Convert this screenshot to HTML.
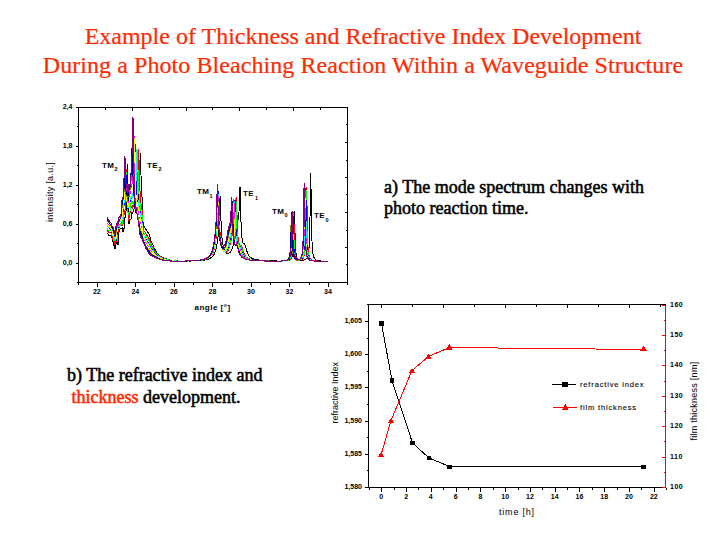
<!DOCTYPE html>
<html><head><meta charset="utf-8"><style>
html,body{margin:0;padding:0;background:#fff;}
body{width:720px;height:540px;position:relative;overflow:hidden;}
.title{position:absolute;left:0;width:726px;text-align:center;font-family:"Liberation Serif",serif;font-size:24px;letter-spacing:0px;color:#ff2a00;white-space:nowrap;line-height:28px;-webkit-text-stroke:0.2px #ff2a00;}
.txt{position:absolute;font-family:"Liberation Serif",serif;font-size:18px;letter-spacing:0px;color:#000;white-space:nowrap;line-height:21px;-webkit-text-stroke:0.55px currentColor;}
svg{position:absolute;left:0;top:0;}
.tk{font-family:"Liberation Sans",sans-serif;font-size:7px;font-weight:bold;fill:#000;}
.lg{font-family:"Liberation Sans",sans-serif;font-size:7.5px;font-weight:normal;fill:#000;letter-spacing:0.85px;stroke:#000;stroke-width:0.1px;}
.ax{font-family:"Liberation Sans",sans-serif;font-size:9px;fill:#000;}
.ml{font-family:"Liberation Sans",sans-serif;font-size:8px;font-weight:bold;fill:#000;letter-spacing:0.3px;}
.sb{font-family:"Liberation Sans",sans-serif;font-size:5.5px;font-weight:bold;fill:#000;}
</style></head><body>
<div class="title" style="top:22px">Example of Thickness and Refractive Index Development</div>
<div class="title" style="top:51px;letter-spacing:0.07px">During a Photo Bleaching Reaction Within a Waveguide Structure</div>
<div class="txt" style="left:384px;top:177px">a) The mode spectrum changes with<br>photo reaction time.</div>
<div class="txt" style="left:67px;top:363.5px;line-height:22px">b) The refractive index and<br>&nbsp;<span style="color:#ff2a00">thickness</span> development.</div>
<svg width="720" height="540" viewBox="0 0 720 540">
<g shape-rendering="crispEdges">
<rect x="78.5" y="107.5" width="269.0" height="175.0" fill="none" stroke="#000" stroke-width="1"/>
<line x1="75.5" y1="107.5" x2="78.5" y2="107.5" stroke="#000"/>
<line x1="75.5" y1="107.5" x2="78.5" y2="107.5" stroke="#000"/>
<text x="72.5" y="109.2" class="tk" text-anchor="end">2,4</text>
<line x1="76.5" y1="126.5" x2="78.5" y2="126.5" stroke="#000"/>
<line x1="75.5" y1="146.5" x2="78.5" y2="146.5" stroke="#000"/>
<text x="72.5" y="148.2" class="tk" text-anchor="end">1,8</text>
<line x1="76.5" y1="165.5" x2="78.5" y2="165.5" stroke="#000"/>
<line x1="75.5" y1="185.5" x2="78.5" y2="185.5" stroke="#000"/>
<text x="72.5" y="187.2" class="tk" text-anchor="end">1,2</text>
<line x1="76.5" y1="204.5" x2="78.5" y2="204.5" stroke="#000"/>
<line x1="75.5" y1="224.5" x2="78.5" y2="224.5" stroke="#000"/>
<text x="72.5" y="226.2" class="tk" text-anchor="end">0,6</text>
<line x1="76.5" y1="243.5" x2="78.5" y2="243.5" stroke="#000"/>
<line x1="75.5" y1="263.5" x2="78.5" y2="263.5" stroke="#000"/>
<text x="72.5" y="265.2" class="tk" text-anchor="end">0,0</text>
<line x1="76.5" y1="282.5" x2="78.5" y2="282.5" stroke="#000"/>
<line x1="78.5" y1="282.5" x2="78.5" y2="284.5" stroke="#000"/>
<line x1="97.5" y1="282.5" x2="97.5" y2="286.5" stroke="#000"/>
<text x="96.8" y="293.5" class="tk" text-anchor="middle">22</text>
<line x1="116.5" y1="282.5" x2="116.5" y2="284.5" stroke="#000"/>
<line x1="135.5" y1="282.5" x2="135.5" y2="286.5" stroke="#000"/>
<text x="135.3" y="293.5" class="tk" text-anchor="middle">24</text>
<line x1="155.5" y1="282.5" x2="155.5" y2="284.5" stroke="#000"/>
<line x1="174.5" y1="282.5" x2="174.5" y2="286.5" stroke="#000"/>
<text x="173.8" y="293.5" class="tk" text-anchor="middle">26</text>
<line x1="193.5" y1="282.5" x2="193.5" y2="284.5" stroke="#000"/>
<line x1="212.5" y1="282.5" x2="212.5" y2="286.5" stroke="#000"/>
<text x="212.4" y="293.5" class="tk" text-anchor="middle">28</text>
<line x1="232.5" y1="282.5" x2="232.5" y2="284.5" stroke="#000"/>
<line x1="251.5" y1="282.5" x2="251.5" y2="286.5" stroke="#000"/>
<text x="250.9" y="293.5" class="tk" text-anchor="middle">30</text>
<line x1="270.5" y1="282.5" x2="270.5" y2="284.5" stroke="#000"/>
<line x1="289.5" y1="282.5" x2="289.5" y2="286.5" stroke="#000"/>
<text x="289.5" y="293.5" class="tk" text-anchor="middle">32</text>
<line x1="309.5" y1="282.5" x2="309.5" y2="284.5" stroke="#000"/>
<line x1="328.5" y1="282.5" x2="328.5" y2="286.5" stroke="#000"/>
<text x="328.0" y="293.5" class="tk" text-anchor="middle">34</text>
<line x1="347.5" y1="282.5" x2="347.5" y2="284.5" stroke="#000"/>
<line x1="105.5" y1="107.5" x2="105.5" y2="109.5" stroke="#000"/>
<line x1="132.5" y1="107.5" x2="132.5" y2="110.5" stroke="#000"/>
<line x1="159.5" y1="107.5" x2="159.5" y2="109.5" stroke="#000"/>
<line x1="186.5" y1="107.5" x2="186.5" y2="110.5" stroke="#000"/>
<line x1="212.5" y1="107.5" x2="212.5" y2="109.5" stroke="#000"/>
<line x1="239.5" y1="107.5" x2="239.5" y2="110.5" stroke="#000"/>
<line x1="266.5" y1="107.5" x2="266.5" y2="109.5" stroke="#000"/>
<line x1="293.5" y1="107.5" x2="293.5" y2="110.5" stroke="#000"/>
<line x1="320.5" y1="107.5" x2="320.5" y2="109.5" stroke="#000"/>
<line x1="347.5" y1="124.5" x2="345.5" y2="124.5" stroke="#000"/>
<line x1="347.5" y1="142.5" x2="344.5" y2="142.5" stroke="#000"/>
<line x1="347.5" y1="160.5" x2="345.5" y2="160.5" stroke="#000"/>
<line x1="347.5" y1="177.5" x2="344.5" y2="177.5" stroke="#000"/>
<line x1="347.5" y1="194.5" x2="345.5" y2="194.5" stroke="#000"/>
<line x1="347.5" y1="212.5" x2="344.5" y2="212.5" stroke="#000"/>
<line x1="347.5" y1="230.5" x2="345.5" y2="230.5" stroke="#000"/>
<line x1="347.5" y1="247.5" x2="344.5" y2="247.5" stroke="#000"/>
<line x1="347.5" y1="264.5" x2="345.5" y2="264.5" stroke="#000"/>
</g>
<g fill="none" stroke-width="1" shape-rendering="crispEdges">
<path d="M107.0,233.3 L107.5,233.7 L108.0,234.1 L108.5,235.1 L109.0,236.1 L109.5,235.9 L110.0,235.8 L110.5,235.9 L111.0,236.0 L111.5,236.8 L112.0,237.6 L112.5,239.9 L113.0,242.3 L113.5,242.3 L114.0,245.5 L114.5,246.3 L115.0,249.3 L115.5,247.7 L116.0,243.1 L116.5,243.4 L117.0,241.3 L117.5,243.6 L118.0,245.4 L118.5,238.1 L119.0,229.7 L119.5,230.6 L120.0,229.1 L120.5,228.4 L121.0,228.0 L121.5,228.2 L122.0,227.8 L122.5,227.6 L123.0,231.9 L123.5,228.3 L124.0,228.7 L124.5,223.6 L125.0,217.6 L125.5,215.9 L126.0,211.1 L126.5,200.4 L127.0,175.1 L127.4,163.9 L127.5,166.7 L128.0,193.5 L128.5,217.2 L129.0,224.2 L129.5,223.0 L130.0,219.2 L130.5,219.7 L131.0,219.3 L131.5,215.0 L132.0,211.8 L132.5,212.9 L133.0,212.0 L133.5,210.1 L134.0,209.3 L134.5,207.6 L135.0,207.0 L135.5,203.4 L136.0,201.2 L136.5,202.5 L137.0,200.2 L137.5,202.2 L138.0,200.3 L138.5,192.3 L139.0,185.4 L139.5,175.8 L140.0,160.8 L140.4,152.6 L140.5,153.7 L141.0,175.3 L141.5,189.4 L142.0,196.9 L142.5,201.5 L143.0,222.0 L143.5,224.4 L144.0,226.5 L144.5,227.4 L145.0,228.1 L145.5,228.7 L146.0,229.5 L146.5,230.3 L147.0,231.1 L147.5,231.8 L148.0,232.6 L148.5,233.3 L149.0,234.1 L149.5,235.2 L150.0,237.0 L150.5,238.8 L151.0,240.6 L151.5,241.8 L152.0,243.0 L152.5,244.2 L153.0,245.3 L153.5,246.5 L154.0,247.7 L154.5,248.6 L155.0,249.5 L155.5,250.4 L156.0,251.3 L156.5,252.2 L157.0,252.8 L157.5,253.4 L158.0,254.0 L158.5,254.6 L159.0,255.2 L159.5,255.5 L160.0,255.8 L160.5,256.1 L161.0,256.4 L161.5,256.7 L162.0,257.0 L162.5,257.3 L163.0,257.5 L163.5,257.7 L164.0,257.9 L164.5,258.1 L165.0,258.3 L165.5,258.5 L166.0,258.8 L166.5,258.9 L167.0,259.1 L167.5,259.2 L168.0,259.4 L168.5,259.6 L169.0,259.7 L169.5,259.9 L170.0,260.0 L170.5,260.1 L171.0,260.2 L171.5,260.3 L172.0,260.3 L172.5,260.4 L173.0,260.5 L173.5,260.6 L174.0,260.6 L174.5,260.7 L175.0,260.7 L175.5,260.8 L176.0,260.8 L176.5,260.9 L177.0,260.9 L177.5,261.0 L178.0,261.0 L178.5,261.0 L179.0,261.1 L179.5,261.1 L180.0,261.2 L180.5,261.2 L181.0,261.1 L181.5,261.1 L182.0,261.1 L182.5,261.1 L183.0,261.1 L183.5,261.1 L184.0,261.1 L184.5,261.1 L185.0,261.1 L185.5,261.1 L186.0,261.1 L186.5,261.1 L187.0,261.0 L187.5,261.0 L188.0,261.0 L188.5,261.0 L189.0,261.0 L189.5,261.0 L190.0,261.0 L190.5,261.0 L191.0,260.9 L191.5,260.9 L192.0,260.9 L192.5,260.9 L193.0,260.9 L193.5,260.9 L194.0,260.8 L194.5,260.8 L195.0,260.8 L195.5,260.8 L196.0,260.7 L196.5,260.7 L197.0,260.7 L197.5,260.7 L198.0,260.6 L198.5,260.6 L199.0,260.6 L199.5,260.5 L200.0,260.5 L200.5,260.5 L201.0,260.4 L201.5,260.4 L202.0,260.3 L202.5,260.3 L203.0,260.2 L203.5,260.1 L204.0,260.1 L204.5,260.0 L205.0,259.9 L205.5,259.8 L206.0,259.7 L206.5,259.6 L207.0,259.5 L207.5,259.3 L208.0,259.2 L208.5,259.0 L209.0,258.8 L209.5,258.6 L210.0,258.4 L210.5,258.1 L211.0,257.8 L211.5,257.4 L212.0,257.0 L212.5,256.5 L213.0,256.0 L213.5,255.3 L214.0,254.5 L214.5,253.5 L215.0,252.3 L215.5,250.8 L216.0,249.0 L216.5,246.8 L217.0,244.1 L217.5,240.8 L218.0,236.9 L218.5,232.0 L219.0,225.5 L219.5,214.7 L220.0,198.4 L220.2,195.9 L220.5,202.9 L221.0,221.0 L221.5,231.8 L222.0,238.0 L222.5,242.2 L223.0,245.2 L223.5,247.5 L224.0,249.2 L224.5,250.5 L225.0,251.5 L225.5,252.3 L226.0,252.8 L226.5,253.2 L227.0,253.4 L227.5,253.6 L228.0,253.6 L228.5,253.5 L229.0,253.2 L229.5,252.9 L230.0,252.5 L230.5,251.9 L231.0,251.1 L231.5,250.2 L232.0,249.1 L232.5,247.7 L233.0,246.1 L233.5,244.1 L234.0,241.8 L234.5,239.2 L235.0,236.1 L235.5,232.9 L236.0,229.6 L236.5,226.4 L237.0,223.8 L237.5,221.8 L238.0,220.2 L238.5,217.7 L239.0,211.7 L239.5,198.1 L240.0,186.9 L240.5,203.5 L241.0,222.1 L241.5,232.4 L242.0,237.9 L242.5,241.0 L243.0,242.7 L243.5,243.5 L244.0,243.8 L244.5,244.0 L245.0,244.6 L245.5,245.9 L246.0,247.7 L246.5,249.6 L247.0,251.4 L247.5,252.8 L248.0,254.0 L248.5,254.9 L249.0,255.7 L249.5,256.3 L250.0,256.9 L250.5,257.3 L251.0,257.7 L251.5,258.0 L252.0,258.3 L252.5,258.5 L253.0,258.7 L253.5,258.9 L254.0,259.1 L254.5,259.2 L255.0,259.3 L255.5,259.5 L256.0,259.6 L256.5,259.7 L257.0,259.8 L257.5,259.9 L258.0,259.9 L258.5,260.0 L259.0,260.1 L259.5,260.1 L260.0,260.2 L260.5,260.3 L261.0,260.3 L261.5,260.3 L262.0,260.4 L262.5,260.4 L263.0,260.5 L263.5,260.5 L264.0,260.5 L264.5,260.6 L265.0,260.6 L265.5,260.6 L266.0,260.7 L266.5,260.7 L267.0,260.7 L267.5,260.7 L268.0,260.7 L268.5,260.8 L269.0,260.8 L269.5,260.8 L270.0,260.8 L270.5,260.8 L271.0,260.8 L271.5,260.9 L272.0,260.9 L272.5,260.9 L273.0,260.9 L273.5,260.9 L274.0,260.9 L274.5,260.9 L275.0,260.9 L275.5,260.9 L276.0,260.9 L276.5,261.0 L277.0,261.0 L277.5,261.0 L278.0,261.0 L278.5,261.0 L279.0,261.0 L279.5,261.0 L280.0,261.0 L280.5,261.0 L281.0,261.0 L281.5,261.0 L282.0,261.0 L282.5,260.9 L283.0,260.9 L283.5,260.9 L284.0,260.9 L284.5,260.9 L285.0,260.9 L285.5,260.8 L286.0,260.8 L286.5,260.8 L287.0,260.7 L287.5,260.6 L288.0,260.6 L288.5,260.5 L289.0,260.3 L289.5,260.1 L290.0,259.9 L290.5,259.6 L291.0,259.1 L291.5,258.4 L292.0,257.2 L292.5,255.1 L293.0,251.1 L293.5,242.2 L294.0,223.2 L294.4,210.8 L294.5,211.8 L295.0,232.1 L295.5,246.6 L296.0,253.0 L296.5,256.1 L297.0,257.7 L297.5,258.6 L298.0,259.2 L298.5,259.6 L299.0,259.9 L299.5,260.0 L300.0,260.2 L300.5,260.3 L301.0,260.3 L301.5,260.3 L302.0,260.3 L302.5,260.3 L303.0,260.3 L303.5,260.2 L304.0,260.1 L304.5,260.0 L305.0,259.8 L305.5,259.6 L306.0,259.3 L306.5,258.8 L307.0,258.1 L307.5,257.2 L308.0,255.7 L308.5,253.1 L309.0,248.4 L309.5,238.8 L310.0,217.1 L310.5,179.6 L310.7,172.9 L311.0,186.6 L311.5,223.0 L312.0,241.4 L312.5,249.7 L313.0,253.8 L313.5,256.1 L314.0,257.5 L314.5,258.4 L315.0,259.0 L315.5,259.5 L316.0,259.8 L316.5,260.1 L317.0,260.3 L317.5,260.4 L318.0,260.5 L318.5,260.6 L319.0,260.7 L319.5,260.8 L320.0,260.9 L320.5,260.9 L321.0,261.0 L321.5,261.0 L322.0,261.0 L322.5,261.1 L323.0,261.1 L323.5,261.1 L324.0,261.1 L324.5,261.2 L325.0,261.2 L325.5,261.2 L326.0,261.2 L326.5,261.2 L327.0,261.2 L327.5,261.2 L328.0,261.2" stroke="#000000"/>
<path d="M107.0,229.7 L107.5,230.4 L108.0,231.5 L108.5,232.3 L109.0,232.5 L109.5,232.4 L110.0,232.5 L110.5,232.6 L111.0,232.7 L111.5,233.9 L112.0,235.8 L112.5,238.8 L113.0,237.8 L113.5,239.0 L114.0,241.5 L114.5,242.3 L115.0,244.4 L115.5,240.9 L116.0,240.1 L116.5,239.8 L117.0,241.5 L117.5,239.5 L118.0,233.2 L118.5,229.3 L119.0,226.7 L119.5,227.5 L120.0,225.7 L120.5,225.5 L121.0,222.9 L121.5,222.8 L122.0,225.5 L122.5,225.5 L123.0,223.6 L123.5,222.5 L124.0,215.2 L124.5,211.2 L125.0,209.9 L125.5,204.0 L126.0,184.8 L126.5,169.5 L127.0,183.5 L127.5,202.2 L128.0,212.5 L128.5,221.3 L129.0,217.7 L129.5,215.1 L130.0,213.2 L130.5,211.5 L131.0,207.6 L131.5,206.8 L132.0,206.8 L132.5,207.8 L133.0,205.1 L133.5,204.3 L134.0,207.1 L134.5,206.9 L135.0,205.2 L135.5,204.2 L136.0,203.5 L136.5,202.3 L137.0,200.6 L137.5,193.4 L138.0,172.4 L138.5,150.2 L138.6,148.7 L139.0,158.9 L139.5,178.9 L140.0,191.0 L140.5,197.3 L141.0,204.4 L141.5,207.4 L142.0,209.9 L142.5,212.0 L143.0,227.5 L143.5,229.2 L144.0,230.9 L144.5,231.6 L145.0,232.3 L145.5,233.0 L146.0,233.8 L146.5,234.6 L147.0,235.4 L147.5,236.1 L148.0,236.9 L148.5,237.6 L149.0,238.4 L149.5,239.4 L150.0,240.9 L150.5,242.4 L151.0,243.9 L151.5,244.9 L152.0,245.9 L152.5,246.9 L153.0,247.8 L153.5,248.8 L154.0,249.8 L154.5,250.5 L155.0,251.3 L155.5,252.0 L156.0,252.8 L156.5,253.5 L157.0,254.0 L157.5,254.5 L158.0,255.1 L158.5,255.6 L159.0,256.1 L159.5,256.4 L160.0,256.6 L160.5,256.9 L161.0,257.1 L161.5,257.4 L162.0,257.6 L162.5,257.9 L163.0,258.1 L163.5,258.3 L164.0,258.5 L164.5,258.7 L165.0,258.9 L165.5,259.0 L166.0,259.2 L166.5,259.3 L167.0,259.5 L167.5,259.6 L168.0,259.7 L168.5,259.9 L169.0,260.0 L169.5,260.1 L170.0,260.2 L170.5,260.3 L171.0,260.4 L171.5,260.4 L172.0,260.5 L172.5,260.5 L173.0,260.6 L173.5,260.7 L174.0,260.7 L174.5,260.8 L175.0,260.8 L175.5,260.9 L176.0,260.9 L176.5,260.9 L177.0,261.0 L177.5,261.0 L178.0,261.0 L178.5,261.0 L179.0,261.1 L179.5,261.1 L180.0,261.1 L180.5,261.1 L181.0,261.1 L181.5,261.1 L182.0,261.1 L182.5,261.1 L183.0,261.1 L183.5,261.1 L184.0,261.1 L184.5,261.1 L185.0,261.1 L185.5,261.0 L186.0,261.0 L186.5,261.0 L187.0,261.0 L187.5,261.0 L188.0,261.0 L188.5,261.0 L189.0,260.9 L189.5,260.9 L190.0,260.9 L190.5,260.9 L191.0,260.9 L191.5,260.9 L192.0,260.8 L192.5,260.8 L193.0,260.8 L193.5,260.8 L194.0,260.8 L194.5,260.7 L195.0,260.7 L195.5,260.7 L196.0,260.6 L196.5,260.6 L197.0,260.6 L197.5,260.5 L198.0,260.5 L198.5,260.5 L199.0,260.4 L199.5,260.4 L200.0,260.3 L200.5,260.3 L201.0,260.2 L201.5,260.1 L202.0,260.1 L202.5,260.0 L203.0,259.9 L203.5,259.8 L204.0,259.7 L204.5,259.6 L205.0,259.5 L205.5,259.4 L206.0,259.2 L206.5,259.0 L207.0,258.9 L207.5,258.7 L208.0,258.4 L208.5,258.2 L209.0,257.9 L209.5,257.5 L210.0,257.1 L210.5,256.7 L211.0,256.1 L211.5,255.5 L212.0,254.8 L212.5,253.9 L213.0,252.8 L213.5,251.4 L214.0,249.8 L214.5,247.9 L215.0,245.4 L215.5,242.4 L216.0,238.8 L216.5,234.4 L217.0,229.0 L217.5,221.5 L218.0,208.6 L218.5,192.5 L218.6,191.9 L219.0,203.4 L219.5,221.4 L220.0,231.5 L220.5,237.5 L221.0,241.6 L221.5,244.6 L222.0,246.8 L222.5,248.5 L223.0,249.8 L223.5,250.7 L224.0,251.4 L224.5,251.9 L225.0,252.1 L225.5,252.2 L226.0,252.2 L226.5,252.0 L227.0,251.6 L227.5,251.1 L228.0,250.4 L228.5,249.5 L229.0,248.4 L229.5,247.0 L230.0,245.3 L230.5,243.3 L231.0,241.0 L231.5,238.4 L232.0,235.6 L232.5,232.8 L233.0,230.2 L233.5,228.0 L234.0,226.4 L234.5,225.0 L235.0,222.5 L235.5,216.4 L236.0,203.5 L236.4,196.9 L236.5,198.0 L237.0,214.9 L237.5,229.3 L238.0,237.0 L238.5,241.1 L239.0,243.4 L239.5,244.6 L240.0,245.0 L240.5,245.0 L241.0,245.1 L241.5,245.7 L242.0,247.0 L242.5,248.8 L243.0,250.6 L243.5,252.2 L244.0,253.6 L244.5,254.7 L245.0,255.5 L245.5,256.2 L246.0,256.8 L246.5,257.3 L247.0,257.7 L247.5,258.0 L248.0,258.3 L248.5,258.5 L249.0,258.8 L249.5,259.0 L250.0,259.1 L250.5,259.3 L251.0,259.4 L251.5,259.5 L252.0,259.6 L252.5,259.7 L253.0,259.8 L253.5,259.9 L254.0,260.0 L254.5,260.1 L255.0,260.1 L255.5,260.2 L256.0,260.3 L256.5,260.3 L257.0,260.4 L257.5,260.4 L258.0,260.4 L258.5,260.5 L259.0,260.5 L259.5,260.6 L260.0,260.6 L260.5,260.6 L261.0,260.6 L261.5,260.7 L262.0,260.7 L262.5,260.7 L263.0,260.7 L263.5,260.8 L264.0,260.8 L264.5,260.8 L265.0,260.8 L265.5,260.8 L266.0,260.9 L266.5,260.9 L267.0,260.9 L267.5,260.9 L268.0,260.9 L268.5,260.9 L269.0,260.9 L269.5,261.0 L270.0,261.0 L270.5,261.0 L271.0,261.0 L271.5,261.0 L272.0,261.0 L272.5,261.0 L273.0,261.0 L273.5,261.0 L274.0,261.0 L274.5,261.0 L275.0,261.0 L275.5,261.0 L276.0,261.0 L276.5,261.0 L277.0,261.0 L277.5,261.0 L278.0,261.0 L278.5,261.0 L279.0,261.0 L279.5,261.0 L280.0,261.0 L280.5,261.0 L281.0,261.0 L281.5,261.0 L282.0,261.0 L282.5,261.0 L283.0,261.0 L283.5,260.9 L284.0,260.9 L284.5,260.9 L285.0,260.9 L285.5,260.8 L286.0,260.8 L286.5,260.7 L287.0,260.6 L287.5,260.5 L288.0,260.4 L288.5,260.3 L289.0,260.1 L289.5,259.8 L290.0,259.4 L290.5,258.8 L291.0,257.8 L291.5,256.2 L292.0,253.2 L292.5,246.9 L293.0,232.7 L293.5,212.8 L293.6,211.8 L294.0,223.9 L294.5,242.5 L295.0,251.2 L295.5,255.1 L296.0,257.1 L296.5,258.3 L297.0,258.9 L297.5,259.4 L298.0,259.6 L298.5,259.8 L299.0,259.9 L299.5,259.9 L300.0,259.9 L300.5,259.9 L301.0,259.8 L301.5,259.6 L302.0,259.3 L302.5,259.0 L303.0,258.4 L303.5,257.5 L304.0,256.1 L304.5,253.7 L305.0,249.2 L305.5,239.8 L306.0,218.3 L306.5,188.3 L306.6,186.8 L307.0,205.2 L307.5,233.2 L308.0,246.4 L308.5,252.4 L309.0,255.5 L309.5,257.2 L310.0,258.3 L310.5,259.0 L311.0,259.5 L311.5,259.8 L312.0,260.1 L312.5,260.3 L313.0,260.5 L313.5,260.6 L314.0,260.7 L314.5,260.8 L315.0,260.8 L315.5,260.9 L316.0,260.9 L316.5,261.0 L317.0,261.0 L317.5,261.1 L318.0,261.1 L318.5,261.1 L319.0,261.1 L319.5,261.2 L320.0,261.2 L320.5,261.2 L321.0,261.2 L321.5,261.2 L322.0,261.2 L322.5,261.2 L323.0,261.3 L323.5,261.3 L324.0,261.3 L324.5,261.3 L325.0,261.3 L325.5,261.3 L326.0,261.3 L326.5,261.3 L327.0,261.3 L327.5,261.3 L328.0,261.3" stroke="#ff0000"/>
<path d="M107.0,227.6 L107.5,228.8 L108.0,229.8 L108.5,230.1 L109.0,230.4 L109.5,230.5 L110.0,230.6 L110.5,230.6 L111.0,230.8 L111.5,232.8 L112.0,234.7 L112.5,235.6 L113.0,236.2 L113.5,237.9 L114.0,241.4 L114.5,239.6 L115.0,240.3 L115.5,238.8 L116.0,238.1 L116.5,240.2 L117.0,241.1 L117.5,236.5 L118.0,228.9 L118.5,228.5 L119.0,226.6 L119.5,226.1 L120.0,226.0 L120.5,223.7 L121.0,223.0 L121.5,224.0 L122.0,224.0 L122.5,222.9 L123.0,220.2 L123.5,215.1 L124.0,206.4 L124.5,204.9 L125.0,202.1 L125.5,187.0 L126.0,171.9 L126.5,184.5 L127.0,197.8 L127.5,206.1 L128.0,212.5 L128.5,215.4 L129.0,212.3 L129.5,212.7 L130.0,211.4 L130.5,206.8 L131.0,203.4 L131.5,202.0 L132.0,203.9 L132.5,203.9 L133.0,200.7 L133.5,202.8 L134.0,204.5 L134.5,202.2 L135.0,202.3 L135.5,200.1 L136.0,195.7 L136.5,186.4 L137.0,166.2 L137.4,151.3 L137.5,151.2 L138.0,169.7 L138.5,185.0 L139.0,194.0 L139.5,198.3 L140.0,203.2 L140.5,206.2 L141.0,211.2 L141.5,213.3 L142.0,215.3 L142.5,217.1 L143.0,230.1 L143.5,231.7 L144.0,233.2 L144.5,234.0 L145.0,234.7 L145.5,235.5 L146.0,236.3 L146.5,237.1 L147.0,237.9 L147.5,238.6 L148.0,239.4 L148.5,240.1 L149.0,240.9 L149.5,241.9 L150.0,243.2 L150.5,244.5 L151.0,245.8 L151.5,246.7 L152.0,247.6 L152.5,248.5 L153.0,249.3 L153.5,250.1 L154.0,251.0 L154.5,251.6 L155.0,252.3 L155.5,252.9 L156.0,253.6 L156.5,254.3 L157.0,254.7 L157.5,255.2 L158.0,255.7 L158.5,256.1 L159.0,256.6 L159.5,256.8 L160.0,257.1 L160.5,257.3 L161.0,257.6 L161.5,257.8 L162.0,258.0 L162.5,258.3 L163.0,258.4 L163.5,258.6 L164.0,258.8 L164.5,259.0 L165.0,259.2 L165.5,259.3 L166.0,259.5 L166.5,259.6 L167.0,259.7 L167.5,259.8 L168.0,259.9 L168.5,260.0 L169.0,260.1 L169.5,260.3 L170.0,260.4 L170.5,260.4 L171.0,260.5 L171.5,260.5 L172.0,260.6 L172.5,260.6 L173.0,260.7 L173.5,260.7 L174.0,260.8 L174.5,260.9 L175.0,260.9 L175.5,260.9 L176.0,260.9 L176.5,261.0 L177.0,261.0 L177.5,261.0 L178.0,261.0 L178.5,261.1 L179.0,261.1 L179.5,261.1 L180.0,261.1 L180.5,261.1 L181.0,261.1 L181.5,261.1 L182.0,261.1 L182.5,261.1 L183.0,261.1 L183.5,261.1 L184.0,261.1 L184.5,261.1 L185.0,261.0 L185.5,261.0 L186.0,261.0 L186.5,261.0 L187.0,261.0 L187.5,261.0 L188.0,261.0 L188.5,261.0 L189.0,260.9 L189.5,260.9 L190.0,260.9 L190.5,260.9 L191.0,260.9 L191.5,260.9 L192.0,260.8 L192.5,260.8 L193.0,260.8 L193.5,260.8 L194.0,260.7 L194.5,260.7 L195.0,260.7 L195.5,260.7 L196.0,260.6 L196.5,260.6 L197.0,260.6 L197.5,260.5 L198.0,260.5 L198.5,260.4 L199.0,260.4 L199.5,260.3 L200.0,260.3 L200.5,260.2 L201.0,260.2 L201.5,260.1 L202.0,260.0 L202.5,260.0 L203.0,259.9 L203.5,259.8 L204.0,259.7 L204.5,259.6 L205.0,259.4 L205.5,259.3 L206.0,259.1 L206.5,259.0 L207.0,258.8 L207.5,258.6 L208.0,258.3 L208.5,258.0 L209.0,257.7 L209.5,257.3 L210.0,256.9 L210.5,256.4 L211.0,255.8 L211.5,255.1 L212.0,254.3 L212.5,253.3 L213.0,252.1 L213.5,250.6 L214.0,248.8 L214.5,246.6 L215.0,243.9 L215.5,240.6 L216.0,236.6 L216.5,231.7 L217.0,225.4 L217.5,215.4 L218.0,198.6 L218.3,192.9 L218.5,196.6 L219.0,215.9 L219.5,228.5 L220.0,235.7 L220.5,240.3 L221.0,243.6 L221.5,246.1 L222.0,247.9 L222.5,249.3 L223.0,250.4 L223.5,251.1 L224.0,251.6 L224.5,251.9 L225.0,252.1 L225.5,252.0 L226.0,251.9 L226.5,251.5 L227.0,251.0 L227.5,250.3 L228.0,249.4 L228.5,248.2 L229.0,246.8 L229.5,245.1 L230.0,243.1 L230.5,240.8 L231.0,238.2 L231.5,235.4 L232.0,232.6 L232.5,230.1 L233.0,228.2 L233.5,226.7 L234.0,225.2 L234.5,222.3 L235.0,215.1 L235.5,201.7 L235.8,197.9 L236.0,201.3 L236.5,219.1 L237.0,231.7 L237.5,238.3 L238.0,241.9 L238.5,243.9 L239.0,244.9 L239.5,245.2 L240.0,245.1 L240.5,245.2 L241.0,246.0 L241.5,247.4 L242.0,249.2 L242.5,251.0 L243.0,252.6 L243.5,253.9 L244.0,254.9 L244.5,255.7 L245.0,256.4 L245.5,256.9 L246.0,257.4 L246.5,257.8 L247.0,258.1 L247.5,258.4 L248.0,258.6 L248.5,258.8 L249.0,259.0 L249.5,259.2 L250.0,259.3 L250.5,259.5 L251.0,259.6 L251.5,259.7 L252.0,259.8 L252.5,259.9 L253.0,260.0 L253.5,260.0 L254.0,260.1 L254.5,260.2 L255.0,260.2 L255.5,260.3 L256.0,260.3 L256.5,260.4 L257.0,260.4 L257.5,260.5 L258.0,260.5 L258.5,260.5 L259.0,260.6 L259.5,260.6 L260.0,260.6 L260.5,260.7 L261.0,260.7 L261.5,260.7 L262.0,260.7 L262.5,260.8 L263.0,260.8 L263.5,260.8 L264.0,260.8 L264.5,260.8 L265.0,260.9 L265.5,260.9 L266.0,260.9 L266.5,260.9 L267.0,260.9 L267.5,260.9 L268.0,260.9 L268.5,261.0 L269.0,261.0 L269.5,261.0 L270.0,261.0 L270.5,261.0 L271.0,261.0 L271.5,261.0 L272.0,261.0 L272.5,261.0 L273.0,261.0 L273.5,261.0 L274.0,261.0 L274.5,261.0 L275.0,261.0 L275.5,261.0 L276.0,261.0 L276.5,261.0 L277.0,261.0 L277.5,261.0 L278.0,261.0 L278.5,261.0 L279.0,261.0 L279.5,261.0 L280.0,261.0 L280.5,261.0 L281.0,261.0 L281.5,261.0 L282.0,261.0 L282.5,261.0 L283.0,261.0 L283.5,260.9 L284.0,260.9 L284.5,260.9 L285.0,260.8 L285.5,260.8 L286.0,260.7 L286.5,260.7 L287.0,260.6 L287.5,260.5 L288.0,260.3 L288.5,260.1 L289.0,259.9 L289.5,259.5 L290.0,259.0 L290.5,258.1 L291.0,256.7 L291.5,254.1 L292.0,248.9 L292.5,237.0 L293.0,216.4 L293.2,212.8 L293.5,220.3 L294.0,240.1 L294.5,250.2 L295.0,254.7 L295.5,256.9 L296.0,258.2 L296.5,258.9 L297.0,259.3 L297.5,259.6 L298.0,259.8 L298.5,259.9 L299.0,260.0 L299.5,260.0 L300.0,260.0 L300.5,259.9 L301.0,259.7 L301.5,259.5 L302.0,259.1 L302.5,258.6 L303.0,257.9 L303.5,256.7 L304.0,254.6 L304.5,250.8 L305.0,243.1 L305.5,225.5 L306.0,195.2 L306.2,189.9 L306.5,200.9 L307.0,230.3 L307.5,245.2 L308.0,251.9 L308.5,255.2 L309.0,257.1 L309.5,258.2 L310.0,259.0 L310.5,259.5 L311.0,259.8 L311.5,260.1 L312.0,260.3 L312.5,260.5 L313.0,260.6 L313.5,260.7 L314.0,260.8 L314.5,260.8 L315.0,260.9 L315.5,261.0 L316.0,261.0 L316.5,261.0 L317.0,261.1 L317.5,261.1 L318.0,261.1 L318.5,261.1 L319.0,261.2 L319.5,261.2 L320.0,261.2 L320.5,261.2 L321.0,261.2 L321.5,261.2 L322.0,261.2 L322.5,261.3 L323.0,261.3 L323.5,261.3 L324.0,261.3 L324.5,261.3 L325.0,261.3 L325.5,261.3 L326.0,261.3 L326.5,261.3 L327.0,261.3 L327.5,261.3 L328.0,261.3" stroke="#00ff00"/>
<path d="M107.0,225.6 L107.5,226.9 L108.0,227.2 L108.5,227.6 L109.0,228.2 L109.5,228.3 L110.0,228.3 L110.5,228.4 L111.0,229.4 L111.5,231.5 L112.0,232.5 L112.5,234.0 L113.0,235.8 L113.5,235.8 L114.0,235.9 L114.5,236.7 L115.0,238.3 L115.5,237.1 L116.0,237.9 L116.5,240.6 L117.0,235.2 L117.5,229.7 L118.0,228.5 L118.5,226.3 L119.0,225.1 L119.5,224.9 L120.0,221.6 L120.5,218.8 L121.0,220.8 L121.5,219.8 L122.0,218.1 L122.5,216.6 L123.0,212.6 L123.5,206.6 L124.0,205.3 L124.5,202.5 L125.0,194.4 L125.5,178.3 L125.8,171.9 L126.0,174.5 L126.5,189.4 L127.0,198.2 L127.5,205.3 L128.0,209.3 L128.5,207.5 L129.0,206.0 L129.5,205.4 L130.0,201.9 L130.5,198.5 L131.0,199.3 L131.5,197.4 L132.0,195.7 L132.5,194.0 L133.0,194.1 L133.5,195.5 L134.0,191.2 L134.5,181.1 L135.0,164.8 L135.5,144.2 L135.6,143.7 L136.0,160.9 L136.5,185.5 L137.0,194.8 L137.5,199.1 L138.0,200.8 L138.5,202.7 L139.0,206.2 L139.5,209.4 L140.0,211.4 L140.5,213.7 L141.0,217.5 L141.5,219.3 L142.0,221.1 L142.5,222.7 L143.0,232.9 L143.5,234.4 L144.0,235.8 L144.5,236.6 L145.0,237.5 L145.5,238.3 L146.0,239.2 L146.5,240.0 L147.0,240.7 L147.5,241.5 L148.0,242.3 L148.5,243.0 L149.0,243.8 L149.5,244.7 L150.0,245.8 L150.5,246.9 L151.0,248.0 L151.5,248.8 L152.0,249.6 L152.5,250.3 L153.0,251.0 L153.5,251.7 L154.0,252.4 L154.5,252.9 L155.0,253.5 L155.5,254.0 L156.0,254.6 L156.5,255.1 L157.0,255.5 L157.5,255.9 L158.0,256.3 L158.5,256.8 L159.0,257.2 L159.5,257.4 L160.0,257.6 L160.5,257.9 L161.0,258.1 L161.5,258.3 L162.0,258.5 L162.5,258.7 L163.0,258.9 L163.5,259.0 L164.0,259.2 L164.5,259.4 L165.0,259.5 L165.5,259.7 L166.0,259.8 L166.5,259.9 L167.0,260.0 L167.5,260.0 L168.0,260.1 L168.5,260.2 L169.0,260.3 L169.5,260.4 L170.0,260.5 L170.5,260.6 L171.0,260.6 L171.5,260.6 L172.0,260.7 L172.5,260.7 L173.0,260.8 L173.5,260.8 L174.0,260.9 L174.5,260.9 L175.0,261.0 L175.5,261.0 L176.0,261.0 L176.5,261.0 L177.0,261.0 L177.5,261.0 L178.0,261.1 L178.5,261.1 L179.0,261.1 L179.5,261.1 L180.0,261.1 L180.5,261.1 L181.0,261.1 L181.5,261.1 L182.0,261.1 L182.5,261.1 L183.0,261.1 L183.5,261.1 L184.0,261.1 L184.5,261.0 L185.0,261.0 L185.5,261.0 L186.0,261.0 L186.5,261.0 L187.0,261.0 L187.5,261.0 L188.0,261.0 L188.5,260.9 L189.0,260.9 L189.5,260.9 L190.0,260.9 L190.5,260.9 L191.0,260.9 L191.5,260.8 L192.0,260.8 L192.5,260.8 L193.0,260.8 L193.5,260.7 L194.0,260.7 L194.5,260.7 L195.0,260.7 L195.5,260.6 L196.0,260.6 L196.5,260.6 L197.0,260.5 L197.5,260.5 L198.0,260.4 L198.5,260.4 L199.0,260.3 L199.5,260.3 L200.0,260.2 L200.5,260.2 L201.0,260.1 L201.5,260.0 L202.0,260.0 L202.5,259.9 L203.0,259.8 L203.5,259.7 L204.0,259.6 L204.5,259.5 L205.0,259.3 L205.5,259.2 L206.0,259.0 L206.5,258.8 L207.0,258.6 L207.5,258.4 L208.0,258.1 L208.5,257.8 L209.0,257.5 L209.5,257.1 L210.0,256.6 L210.5,256.0 L211.0,255.4 L211.5,254.6 L212.0,253.7 L212.5,252.6 L213.0,251.3 L213.5,249.6 L214.0,247.6 L214.5,245.1 L215.0,242.1 L215.5,238.4 L216.0,234.0 L216.5,228.5 L217.0,220.9 L217.5,207.8 L218.0,191.5 L218.1,190.9 L218.5,202.5 L219.0,220.7 L219.5,230.9 L220.0,237.0 L220.5,241.1 L221.0,244.1 L221.5,246.4 L222.0,248.0 L222.5,249.3 L223.0,250.2 L223.5,250.8 L224.0,251.2 L224.5,251.4 L225.0,251.5 L225.5,251.3 L226.0,250.9 L226.5,250.4 L227.0,249.7 L227.5,248.7 L228.0,247.5 L228.5,246.0 L229.0,244.2 L229.5,242.1 L230.0,239.7 L230.5,237.1 L231.0,234.4 L231.5,231.8 L232.0,229.7 L232.5,228.1 L233.0,226.8 L233.5,224.8 L234.0,220.0 L234.5,209.0 L235.0,199.9 L235.5,213.4 L236.0,228.5 L236.5,236.8 L237.0,241.2 L237.5,243.7 L238.0,244.9 L238.5,245.4 L239.0,245.4 L239.5,245.3 L240.0,245.7 L240.5,246.9 L241.0,248.6 L241.5,250.4 L242.0,252.1 L242.5,253.5 L243.0,254.6 L243.5,255.5 L244.0,256.2 L244.5,256.8 L245.0,257.3 L245.5,257.7 L246.0,258.0 L246.5,258.3 L247.0,258.6 L247.5,258.8 L248.0,259.0 L248.5,259.1 L249.0,259.3 L249.5,259.4 L250.0,259.6 L250.5,259.7 L251.0,259.8 L251.5,259.9 L252.0,259.9 L252.5,260.0 L253.0,260.1 L253.5,260.2 L254.0,260.2 L254.5,260.3 L255.0,260.3 L255.5,260.4 L256.0,260.4 L256.5,260.5 L257.0,260.5 L257.5,260.5 L258.0,260.6 L258.5,260.6 L259.0,260.6 L259.5,260.7 L260.0,260.7 L260.5,260.7 L261.0,260.7 L261.5,260.8 L262.0,260.8 L262.5,260.8 L263.0,260.8 L263.5,260.8 L264.0,260.9 L264.5,260.9 L265.0,260.9 L265.5,260.9 L266.0,260.9 L266.5,260.9 L267.0,260.9 L267.5,261.0 L268.0,261.0 L268.5,261.0 L269.0,261.0 L269.5,261.0 L270.0,261.0 L270.5,261.0 L271.0,261.0 L271.5,261.0 L272.0,261.0 L272.5,261.0 L273.0,261.0 L273.5,261.0 L274.0,261.0 L274.5,261.0 L275.0,261.1 L275.5,261.1 L276.0,261.1 L276.5,261.1 L277.0,261.1 L277.5,261.1 L278.0,261.0 L278.5,261.0 L279.0,261.0 L279.5,261.0 L280.0,261.0 L280.5,261.0 L281.0,261.0 L281.5,261.0 L282.0,261.0 L282.5,261.0 L283.0,260.9 L283.5,260.9 L284.0,260.9 L284.5,260.8 L285.0,260.8 L285.5,260.7 L286.0,260.7 L286.5,260.6 L287.0,260.5 L287.5,260.3 L288.0,260.2 L288.5,259.9 L289.0,259.6 L289.5,259.0 L290.0,258.3 L290.5,257.0 L291.0,254.7 L291.5,250.1 L292.0,239.7 L292.5,219.4 L292.8,211.8 L293.0,215.5 L293.5,236.4 L294.0,248.5 L294.5,253.9 L295.0,256.5 L295.5,257.9 L296.0,258.7 L296.5,259.2 L297.0,259.5 L297.5,259.7 L298.0,259.9 L298.5,259.9 L299.0,259.9 L299.5,259.9 L300.0,259.8 L300.5,259.7 L301.0,259.4 L301.5,259.1 L302.0,258.5 L302.5,257.8 L303.0,256.5 L303.5,254.4 L304.0,250.5 L304.5,242.6 L305.0,224.5 L305.5,193.4 L305.7,187.8 L306.0,199.2 L306.5,229.4 L307.0,244.8 L307.5,251.6 L308.0,255.1 L308.5,257.0 L309.0,258.1 L309.5,258.9 L310.0,259.4 L310.5,259.8 L311.0,260.1 L311.5,260.3 L312.0,260.4 L312.5,260.6 L313.0,260.7 L313.5,260.8 L314.0,260.8 L314.5,260.9 L315.0,260.9 L315.5,261.0 L316.0,261.0 L316.5,261.1 L317.0,261.1 L317.5,261.1 L318.0,261.1 L318.5,261.2 L319.0,261.2 L319.5,261.2 L320.0,261.2 L320.5,261.2 L321.0,261.2 L321.5,261.2 L322.0,261.3 L322.5,261.3 L323.0,261.3 L323.5,261.3 L324.0,261.3 L324.5,261.3 L325.0,261.3 L325.5,261.3 L326.0,261.3 L326.5,261.3 L327.0,261.3 L327.5,261.3 L328.0,261.3" stroke="#0000ff"/>
<path d="M107.0,225.0 L107.5,226.0 L108.0,226.4 L108.5,226.8 L109.0,227.4 L109.5,227.5 L110.0,227.6 L110.5,227.9 L111.0,229.0 L111.5,230.8 L112.0,231.8 L112.5,232.8 L113.0,235.6 L113.5,237.3 L114.0,235.1 L114.5,236.7 L115.0,238.5 L115.5,236.5 L116.0,238.7 L116.5,237.0 L117.0,232.5 L117.5,229.4 L118.0,227.1 L118.5,225.2 L119.0,225.0 L119.5,223.1 L120.0,222.0 L120.5,220.2 L121.0,221.4 L121.5,218.8 L122.0,218.8 L122.5,215.6 L123.0,209.2 L123.5,203.2 L124.0,202.8 L124.5,195.9 L125.0,186.2 L125.5,175.2 L126.0,185.2 L126.5,196.9 L127.0,201.3 L127.5,206.7 L128.0,208.2 L128.5,206.0 L129.0,207.1 L129.5,204.4 L130.0,200.0 L130.5,197.6 L131.0,198.3 L131.5,196.9 L132.0,193.9 L132.5,194.0 L133.0,197.7 L133.5,196.9 L134.0,196.3 L134.5,194.2 L135.0,188.5 L135.5,176.2 L136.0,153.5 L136.2,149.4 L136.5,157.3 L137.0,180.6 L137.5,191.9 L138.0,199.6 L138.5,203.8 L139.0,206.8 L139.5,210.2 L140.0,212.9 L140.5,215.8 L141.0,219.1 L141.5,220.9 L142.0,222.7 L142.5,224.3 L143.0,233.7 L143.5,235.1 L144.0,236.6 L144.5,237.5 L145.0,238.3 L145.5,239.2 L146.0,240.1 L146.5,240.9 L147.0,241.7 L147.5,242.4 L148.0,243.2 L148.5,244.0 L149.0,244.7 L149.5,245.6 L150.0,246.7 L150.5,247.7 L151.0,248.7 L151.5,249.5 L152.0,250.3 L152.5,250.9 L153.0,251.6 L153.5,252.2 L154.0,252.8 L154.5,253.4 L155.0,253.9 L155.5,254.4 L156.0,254.9 L156.5,255.4 L157.0,255.8 L157.5,256.2 L158.0,256.6 L158.5,257.0 L159.0,257.3 L159.5,257.6 L160.0,257.8 L160.5,258.0 L161.0,258.2 L161.5,258.4 L162.0,258.6 L162.5,258.8 L163.0,259.0 L163.5,259.2 L164.0,259.3 L164.5,259.5 L165.0,259.7 L165.5,259.8 L166.0,259.9 L166.5,260.0 L167.0,260.1 L167.5,260.1 L168.0,260.2 L168.5,260.3 L169.0,260.4 L169.5,260.5 L170.0,260.6 L170.5,260.6 L171.0,260.6 L171.5,260.7 L172.0,260.7 L172.5,260.8 L173.0,260.8 L173.5,260.9 L174.0,260.9 L174.5,261.0 L175.0,261.0 L175.5,261.0 L176.0,261.0 L176.5,261.0 L177.0,261.1 L177.5,261.1 L178.0,261.1 L178.5,261.1 L179.0,261.1 L179.5,261.1 L180.0,261.1 L180.5,261.1 L181.0,261.1 L181.5,261.1 L182.0,261.1 L182.5,261.1 L183.0,261.1 L183.5,261.1 L184.0,261.1 L184.5,261.1 L185.0,261.1 L185.5,261.0 L186.0,261.0 L186.5,261.0 L187.0,261.0 L187.5,261.0 L188.0,261.0 L188.5,261.0 L189.0,260.9 L189.5,260.9 L190.0,260.9 L190.5,260.9 L191.0,260.9 L191.5,260.9 L192.0,260.8 L192.5,260.8 L193.0,260.8 L193.5,260.8 L194.0,260.7 L194.5,260.7 L195.0,260.7 L195.5,260.7 L196.0,260.6 L196.5,260.6 L197.0,260.6 L197.5,260.5 L198.0,260.5 L198.5,260.4 L199.0,260.4 L199.5,260.3 L200.0,260.3 L200.5,260.2 L201.0,260.1 L201.5,260.1 L202.0,260.0 L202.5,259.9 L203.0,259.8 L203.5,259.7 L204.0,259.6 L204.5,259.5 L205.0,259.4 L205.5,259.2 L206.0,259.1 L206.5,258.9 L207.0,258.7 L207.5,258.4 L208.0,258.2 L208.5,257.9 L209.0,257.5 L209.5,257.1 L210.0,256.7 L210.5,256.1 L211.0,255.5 L211.5,254.7 L212.0,253.8 L212.5,252.7 L213.0,251.4 L213.5,249.7 L214.0,247.7 L214.5,245.3 L215.0,242.2 L215.5,238.6 L216.0,234.1 L216.5,228.6 L217.0,220.6 L217.5,206.6 L218.0,193.9 L218.5,209.1 L219.0,224.8 L219.5,233.5 L220.0,238.8 L220.5,242.5 L221.0,245.2 L221.5,247.2 L222.0,248.7 L222.5,249.8 L223.0,250.6 L223.5,251.1 L224.0,251.4 L224.5,251.5 L225.0,251.4 L225.5,251.2 L226.0,250.7 L226.5,250.1 L227.0,249.2 L227.5,248.1 L228.0,246.7 L228.5,245.0 L229.0,243.1 L229.5,240.8 L230.0,238.3 L230.5,235.7 L231.0,233.2 L231.5,231.1 L232.0,229.4 L232.5,228.2 L233.0,226.5 L233.5,222.6 L234.0,213.3 L234.5,202.1 L234.6,201.9 L235.0,211.4 L235.5,227.2 L236.0,236.3 L236.5,241.1 L237.0,243.7 L237.5,245.1 L238.0,245.7 L238.5,245.7 L239.0,245.6 L239.5,245.8 L240.0,246.8 L240.5,248.4 L241.0,250.2 L241.5,251.9 L242.0,253.4 L242.5,254.5 L243.0,255.4 L243.5,256.2 L244.0,256.8 L244.5,257.3 L245.0,257.7 L245.5,258.0 L246.0,258.3 L246.5,258.6 L247.0,258.8 L247.5,259.0 L248.0,259.2 L248.5,259.3 L249.0,259.5 L249.5,259.6 L250.0,259.7 L250.5,259.8 L251.0,259.9 L251.5,260.0 L252.0,260.0 L252.5,260.1 L253.0,260.2 L253.5,260.2 L254.0,260.3 L254.5,260.3 L255.0,260.4 L255.5,260.4 L256.0,260.5 L256.5,260.5 L257.0,260.6 L257.5,260.6 L258.0,260.6 L258.5,260.7 L259.0,260.7 L259.5,260.7 L260.0,260.7 L260.5,260.8 L261.0,260.8 L261.5,260.8 L262.0,260.8 L262.5,260.8 L263.0,260.9 L263.5,260.9 L264.0,260.9 L264.5,260.9 L265.0,260.9 L265.5,260.9 L266.0,260.9 L266.5,261.0 L267.0,261.0 L267.5,261.0 L268.0,261.0 L268.5,261.0 L269.0,261.0 L269.5,261.0 L270.0,261.0 L270.5,261.0 L271.0,261.0 L271.5,261.0 L272.0,261.0 L272.5,261.1 L273.0,261.1 L273.5,261.1 L274.0,261.1 L274.5,261.1 L275.0,261.1 L275.5,261.1 L276.0,261.1 L276.5,261.1 L277.0,261.1 L277.5,261.1 L278.0,261.1 L278.5,261.1 L279.0,261.1 L279.5,261.0 L280.0,261.0 L280.5,261.0 L281.0,261.0 L281.5,261.0 L282.0,261.0 L282.5,261.0 L283.0,260.9 L283.5,260.9 L284.0,260.9 L284.5,260.8 L285.0,260.8 L285.5,260.7 L286.0,260.6 L286.5,260.5 L287.0,260.4 L287.5,260.2 L288.0,260.0 L288.5,259.7 L289.0,259.3 L289.5,258.6 L290.0,257.5 L290.5,255.5 L291.0,251.7 L291.5,243.3 L292.0,225.4 L292.4,213.8 L292.5,214.7 L293.0,233.8 L293.5,247.4 L294.0,253.5 L294.5,256.3 L295.0,257.8 L295.5,258.7 L296.0,259.2 L296.5,259.6 L297.0,259.8 L297.5,259.9 L298.0,260.0 L298.5,260.0 L299.0,260.0 L299.5,259.9 L300.0,259.8 L300.5,259.6 L301.0,259.3 L301.5,258.9 L302.0,258.3 L302.5,257.3 L303.0,255.7 L303.5,252.8 L304.0,247.1 L304.5,234.7 L305.0,208.2 L305.4,190.9 L305.5,192.3 L306.0,220.7 L306.5,241.0 L307.0,250.0 L307.5,254.2 L308.0,256.5 L308.5,257.9 L309.0,258.7 L309.5,259.3 L310.0,259.7 L310.5,260.0 L311.0,260.2 L311.5,260.4 L312.0,260.6 L312.5,260.7 L313.0,260.8 L313.5,260.8 L314.0,260.9 L314.5,260.9 L315.0,261.0 L315.5,261.0 L316.0,261.1 L316.5,261.1 L317.0,261.1 L317.5,261.1 L318.0,261.2 L318.5,261.2 L319.0,261.2 L319.5,261.2 L320.0,261.2 L320.5,261.2 L321.0,261.3 L321.5,261.3 L322.0,261.3 L322.5,261.3 L323.0,261.3 L323.5,261.3 L324.0,261.3 L324.5,261.3 L325.0,261.3 L325.5,261.3 L326.0,261.3 L326.5,261.3 L327.0,261.3 L327.5,261.3 L328.0,261.3" stroke="#00ffff"/>
<path d="M107.0,223.2 L107.5,223.6 L108.0,224.1 L108.5,224.8 L109.0,225.5 L109.5,225.5 L110.0,225.7 L110.5,226.7 L111.0,227.7 L111.5,228.8 L112.0,229.9 L112.5,231.4 L113.0,233.1 L113.5,232.2 L114.0,233.6 L114.5,234.4 L115.0,235.7 L115.5,238.0 L116.0,237.6 L116.5,232.3 L117.0,227.9 L117.5,227.7 L118.0,225.6 L118.5,224.0 L119.0,224.7 L119.5,221.9 L120.0,220.3 L120.5,218.7 L121.0,218.3 L121.5,216.1 L122.0,216.0 L122.5,208.3 L123.0,202.6 L123.5,202.8 L124.0,197.7 L124.5,187.9 L125.0,178.2 L125.3,171.7 L125.5,175.5 L126.0,187.3 L126.5,194.1 L127.0,198.7 L127.5,201.6 L128.0,201.1 L128.5,202.0 L129.0,201.4 L129.5,198.1 L130.0,194.2 L130.5,192.6 L131.0,193.7 L131.5,188.2 L132.0,183.8 L132.5,183.8 L133.0,176.8 L133.5,158.1 L134.0,135.5 L134.1,136.5 L134.5,151.6 L135.0,180.5 L135.5,196.2 L136.0,208.1 L136.5,207.5 L137.0,207.2 L137.5,207.3 L138.0,210.8 L138.5,213.6 L139.0,215.0 L139.5,215.6 L140.0,219.3 L140.5,223.1 L141.0,224.4 L141.5,226.0 L142.0,227.7 L142.5,229.1 L143.0,236.1 L143.5,237.5 L144.0,238.9 L144.5,239.8 L145.0,240.7 L145.5,241.7 L146.0,242.6 L146.5,243.4 L147.0,244.2 L147.5,245.0 L148.0,245.7 L148.5,246.5 L149.0,247.3 L149.5,248.1 L150.0,249.0 L150.5,249.8 L151.0,250.7 L151.5,251.4 L152.0,252.0 L152.5,252.5 L153.0,253.0 L153.5,253.6 L154.0,254.1 L154.5,254.5 L155.0,254.9 L155.5,255.3 L156.0,255.8 L156.5,256.2 L157.0,256.5 L157.5,256.9 L158.0,257.2 L158.5,257.5 L159.0,257.8 L159.5,258.1 L160.0,258.3 L160.5,258.5 L161.0,258.7 L161.5,258.8 L162.0,259.0 L162.5,259.2 L163.0,259.4 L163.5,259.5 L164.0,259.7 L164.5,259.8 L165.0,260.0 L165.5,260.1 L166.0,260.1 L166.5,260.2 L167.0,260.3 L167.5,260.3 L168.0,260.4 L168.5,260.5 L169.0,260.5 L169.5,260.6 L170.0,260.7 L170.5,260.7 L171.0,260.8 L171.5,260.8 L172.0,260.8 L172.5,260.9 L173.0,260.9 L173.5,260.9 L174.0,261.0 L174.5,261.0 L175.0,261.0 L175.5,261.0 L176.0,261.1 L176.5,261.1 L177.0,261.1 L177.5,261.1 L178.0,261.1 L178.5,261.1 L179.0,261.1 L179.5,261.1 L180.0,261.1 L180.5,261.1 L181.0,261.1 L181.5,261.1 L182.0,261.1 L182.5,261.1 L183.0,261.1 L183.5,261.1 L184.0,261.0 L184.5,261.0 L185.0,261.0 L185.5,261.0 L186.0,261.0 L186.5,261.0 L187.0,261.0 L187.5,261.0 L188.0,260.9 L188.5,260.9 L189.0,260.9 L189.5,260.9 L190.0,260.9 L190.5,260.9 L191.0,260.8 L191.5,260.8 L192.0,260.8 L192.5,260.8 L193.0,260.7 L193.5,260.7 L194.0,260.7 L194.5,260.7 L195.0,260.6 L195.5,260.6 L196.0,260.6 L196.5,260.5 L197.0,260.5 L197.5,260.4 L198.0,260.4 L198.5,260.4 L199.0,260.3 L199.5,260.2 L200.0,260.2 L200.5,260.1 L201.0,260.1 L201.5,260.0 L202.0,259.9 L202.5,259.8 L203.0,259.7 L203.5,259.6 L204.0,259.5 L204.5,259.4 L205.0,259.2 L205.5,259.1 L206.0,258.9 L206.5,258.7 L207.0,258.5 L207.5,258.2 L208.0,257.9 L208.5,257.6 L209.0,257.2 L209.5,256.8 L210.0,256.3 L210.5,255.7 L211.0,255.0 L211.5,254.1 L212.0,253.1 L212.5,251.9 L213.0,250.4 L213.5,248.5 L214.0,246.3 L214.5,243.5 L215.0,240.1 L215.5,236.1 L216.0,231.1 L216.5,224.7 L217.0,214.5 L217.5,197.6 L217.8,191.9 L218.0,195.6 L218.5,215.0 L219.0,227.7 L219.5,234.9 L220.0,239.6 L220.5,242.8 L221.0,245.3 L221.5,247.0 L222.0,248.3 L222.5,249.3 L223.0,249.9 L223.5,250.2 L224.0,250.4 L224.5,250.3 L225.0,250.0 L225.5,249.4 L226.0,248.7 L226.5,247.7 L227.0,246.4 L227.5,244.8 L228.0,242.9 L228.5,240.6 L229.0,238.1 L229.5,235.4 L230.0,232.7 L230.5,230.3 L231.0,228.4 L231.5,227.0 L232.0,225.5 L232.5,222.7 L233.0,215.7 L233.5,202.6 L233.8,198.9 L234.0,202.2 L234.5,219.7 L235.0,232.0 L235.5,238.5 L236.0,242.1 L236.5,244.0 L237.0,245.0 L237.5,245.2 L238.0,245.2 L238.5,245.3 L239.0,246.0 L239.5,247.4 L240.0,249.2 L240.5,251.0 L241.0,252.6 L241.5,253.9 L242.0,254.9 L242.5,255.7 L243.0,256.4 L243.5,256.9 L244.0,257.4 L244.5,257.8 L245.0,258.1 L245.5,258.4 L246.0,258.6 L246.5,258.8 L247.0,259.0 L247.5,259.2 L248.0,259.3 L248.5,259.5 L249.0,259.6 L249.5,259.7 L250.0,259.8 L250.5,259.9 L251.0,260.0 L251.5,260.0 L252.0,260.1 L252.5,260.2 L253.0,260.2 L253.5,260.3 L254.0,260.3 L254.5,260.4 L255.0,260.4 L255.5,260.5 L256.0,260.5 L256.5,260.5 L257.0,260.6 L257.5,260.6 L258.0,260.6 L258.5,260.7 L259.0,260.7 L259.5,260.7 L260.0,260.7 L260.5,260.8 L261.0,260.8 L261.5,260.8 L262.0,260.8 L262.5,260.8 L263.0,260.9 L263.5,260.9 L264.0,260.9 L264.5,260.9 L265.0,260.9 L265.5,260.9 L266.0,260.9 L266.5,261.0 L267.0,261.0 L267.5,261.0 L268.0,261.0 L268.5,261.0 L269.0,261.0 L269.5,261.0 L270.0,261.0 L270.5,261.0 L271.0,261.0 L271.5,261.0 L272.0,261.0 L272.5,261.0 L273.0,261.0 L273.5,261.0 L274.0,261.1 L274.5,261.1 L275.0,261.1 L275.5,261.1 L276.0,261.1 L276.5,261.1 L277.0,261.1 L277.5,261.0 L278.0,261.0 L278.5,261.0 L279.0,261.0 L279.5,261.0 L280.0,261.0 L280.5,261.0 L281.0,261.0 L281.5,261.0 L282.0,261.0 L282.5,260.9 L283.0,260.9 L283.5,260.9 L284.0,260.8 L284.5,260.8 L285.0,260.7 L285.5,260.6 L286.0,260.5 L286.5,260.4 L287.0,260.2 L287.5,260.0 L288.0,259.7 L288.5,259.3 L289.0,258.6 L289.5,257.6 L290.0,255.8 L290.5,252.3 L291.0,244.9 L291.5,228.5 L292.0,211.8 L292.5,228.4 L293.0,244.9 L293.5,252.2 L294.0,255.7 L294.5,257.4 L295.0,258.4 L295.5,259.1 L296.0,259.4 L296.5,259.7 L297.0,259.9 L297.5,259.9 L298.0,260.0 L298.5,260.0 L299.0,259.9 L299.5,259.8 L300.0,259.6 L300.5,259.3 L301.0,258.9 L301.5,258.3 L302.0,257.4 L302.5,255.9 L303.0,253.3 L303.5,248.2 L304.0,237.4 L304.5,213.3 L305.0,188.8 L305.5,213.3 L306.0,237.5 L306.5,248.3 L307.0,253.4 L307.5,256.0 L308.0,257.6 L308.5,258.5 L309.0,259.2 L309.5,259.6 L310.0,259.9 L310.5,260.2 L311.0,260.4 L311.5,260.5 L312.0,260.6 L312.5,260.7 L313.0,260.8 L313.5,260.9 L314.0,260.9 L314.5,261.0 L315.0,261.0 L315.5,261.0 L316.0,261.1 L316.5,261.1 L317.0,261.1 L317.5,261.1 L318.0,261.2 L318.5,261.2 L319.0,261.2 L319.5,261.2 L320.0,261.2 L320.5,261.2 L321.0,261.3 L321.5,261.3 L322.0,261.3 L322.5,261.3 L323.0,261.3 L323.5,261.3 L324.0,261.3 L324.5,261.3 L325.0,261.3 L325.5,261.3 L326.0,261.3 L326.5,261.3 L327.0,261.3 L327.5,261.3 L328.0,261.3" stroke="#ff00ff"/>
<path d="M107.0,224.1 L107.5,224.7 L108.0,225.1 L108.5,225.7 L109.0,226.4 L109.5,226.5 L110.0,226.5 L110.5,227.3 L111.0,228.4 L111.5,229.7 L112.0,230.8 L112.5,231.2 L113.0,234.5 L113.5,235.7 L114.0,233.9 L114.5,236.1 L115.0,237.1 L115.5,238.8 L116.0,239.6 L116.5,235.1 L117.0,231.0 L117.5,228.8 L118.0,223.9 L118.5,223.8 L119.0,222.9 L119.5,223.4 L120.0,218.8 L120.5,220.8 L121.0,218.7 L121.5,218.7 L122.0,217.1 L122.5,211.6 L123.0,204.2 L123.5,203.1 L124.0,200.6 L124.5,190.0 L125.0,178.3 L125.2,176.4 L125.5,180.6 L126.0,192.3 L126.5,198.6 L127.0,202.1 L127.5,204.1 L128.0,203.0 L128.5,205.1 L129.0,203.5 L129.5,201.5 L130.0,197.1 L130.5,196.7 L131.0,195.7 L131.5,193.8 L132.0,187.9 L132.5,188.6 L133.0,188.6 L133.5,181.4 L134.0,164.2 L134.5,143.3 L134.7,138.3 L135.0,150.9 L135.5,180.5 L136.0,197.5 L136.5,203.8 L137.0,203.6 L137.5,204.8 L138.0,206.2 L138.5,210.4 L139.0,211.2 L139.5,213.6 L140.0,216.7 L140.5,220.0 L141.0,222.1 L141.5,223.8 L142.0,225.5 L142.5,227.0 L143.0,235.0 L143.5,236.5 L144.0,237.8 L144.5,238.8 L145.0,239.7 L145.5,240.6 L146.0,241.5 L146.5,242.3 L147.0,243.1 L147.5,243.8 L148.0,244.6 L148.5,245.4 L149.0,246.1 L149.5,247.0 L150.0,247.9 L150.5,248.9 L151.0,249.8 L151.5,250.5 L152.0,251.2 L152.5,251.8 L153.0,252.4 L153.5,252.9 L154.0,253.5 L154.5,254.0 L155.0,254.4 L155.5,254.9 L156.0,255.4 L156.5,255.8 L157.0,256.2 L157.5,256.6 L158.0,256.9 L158.5,257.3 L159.0,257.6 L159.5,257.9 L160.0,258.1 L160.5,258.3 L161.0,258.5 L161.5,258.7 L162.0,258.8 L162.5,259.0 L163.0,259.2 L163.5,259.4 L164.0,259.5 L164.5,259.7 L165.0,259.8 L165.5,259.9 L166.0,260.0 L166.5,260.1 L167.0,260.2 L167.5,260.3 L168.0,260.3 L168.5,260.4 L169.0,260.5 L169.5,260.6 L170.0,260.6 L170.5,260.7 L171.0,260.7 L171.5,260.7 L172.0,260.8 L172.5,260.8 L173.0,260.9 L173.5,260.9 L174.0,261.0 L174.5,261.0 L175.0,261.0 L175.5,261.0 L176.0,261.0 L176.5,261.1 L177.0,261.1 L177.5,261.1 L178.0,261.1 L178.5,261.1 L179.0,261.1 L179.5,261.1 L180.0,261.1 L180.5,261.1 L181.0,261.1 L181.5,261.1 L182.0,261.1 L182.5,261.1 L183.0,261.1 L183.5,261.1 L184.0,261.1 L184.5,261.1 L185.0,261.0 L185.5,261.0 L186.0,261.0 L186.5,261.0 L187.0,261.0 L187.5,261.0 L188.0,261.0 L188.5,261.0 L189.0,260.9 L189.5,260.9 L190.0,260.9 L190.5,260.9 L191.0,260.9 L191.5,260.8 L192.0,260.8 L192.5,260.8 L193.0,260.8 L193.5,260.8 L194.0,260.7 L194.5,260.7 L195.0,260.7 L195.5,260.6 L196.0,260.6 L196.5,260.6 L197.0,260.5 L197.5,260.5 L198.0,260.4 L198.5,260.4 L199.0,260.3 L199.5,260.3 L200.0,260.2 L200.5,260.2 L201.0,260.1 L201.5,260.0 L202.0,259.9 L202.5,259.9 L203.0,259.8 L203.5,259.7 L204.0,259.5 L204.5,259.4 L205.0,259.3 L205.5,259.1 L206.0,259.0 L206.5,258.8 L207.0,258.5 L207.5,258.3 L208.0,258.0 L208.5,257.7 L209.0,257.3 L209.5,256.9 L210.0,256.4 L210.5,255.8 L211.0,255.1 L211.5,254.2 L212.0,253.2 L212.5,252.0 L213.0,250.5 L213.5,248.7 L214.0,246.4 L214.5,243.7 L215.0,240.3 L215.5,236.3 L216.0,231.3 L216.5,224.7 L217.0,213.8 L217.5,197.4 L217.7,194.9 L218.0,201.8 L218.5,220.0 L219.0,230.8 L219.5,237.0 L220.0,241.1 L220.5,244.1 L221.0,246.2 L221.5,247.8 L222.0,249.0 L222.5,249.8 L223.0,250.3 L223.5,250.5 L224.0,250.6 L224.5,250.4 L225.0,250.0 L225.5,249.4 L226.0,248.5 L226.5,247.4 L227.0,246.0 L227.5,244.2 L228.0,242.2 L228.5,239.9 L229.0,237.4 L229.5,234.9 L230.0,232.6 L230.5,230.7 L231.0,229.3 L231.5,228.0 L232.0,225.9 L232.5,220.4 L233.0,208.8 L233.4,202.9 L233.5,203.9 L234.0,219.1 L234.5,232.0 L235.0,238.9 L235.5,242.6 L236.0,244.6 L236.5,245.5 L237.0,245.8 L237.5,245.7 L238.0,245.7 L238.5,246.2 L239.0,247.5 L239.5,249.2 L240.0,251.0 L240.5,252.6 L241.0,253.9 L241.5,254.9 L242.0,255.8 L242.5,256.5 L243.0,257.0 L243.5,257.5 L244.0,257.9 L244.5,258.2 L245.0,258.5 L245.5,258.7 L246.0,258.9 L246.5,259.1 L247.0,259.2 L247.5,259.4 L248.0,259.5 L248.5,259.6 L249.0,259.7 L249.5,259.8 L250.0,259.9 L250.5,260.0 L251.0,260.1 L251.5,260.1 L252.0,260.2 L252.5,260.3 L253.0,260.3 L253.5,260.4 L254.0,260.4 L254.5,260.5 L255.0,260.5 L255.5,260.5 L256.0,260.6 L256.5,260.6 L257.0,260.6 L257.5,260.7 L258.0,260.7 L258.5,260.7 L259.0,260.7 L259.5,260.8 L260.0,260.8 L260.5,260.8 L261.0,260.8 L261.5,260.8 L262.0,260.9 L262.5,260.9 L263.0,260.9 L263.5,260.9 L264.0,260.9 L264.5,260.9 L265.0,261.0 L265.5,261.0 L266.0,261.0 L266.5,261.0 L267.0,261.0 L267.5,261.0 L268.0,261.0 L268.5,261.0 L269.0,261.0 L269.5,261.0 L270.0,261.0 L270.5,261.0 L271.0,261.1 L271.5,261.1 L272.0,261.1 L272.5,261.1 L273.0,261.1 L273.5,261.1 L274.0,261.1 L274.5,261.1 L275.0,261.1 L275.5,261.1 L276.0,261.1 L276.5,261.1 L277.0,261.1 L277.5,261.1 L278.0,261.1 L278.5,261.1 L279.0,261.0 L279.5,261.0 L280.0,261.0 L280.5,261.0 L281.0,261.0 L281.5,261.0 L282.0,261.0 L282.5,260.9 L283.0,260.9 L283.5,260.9 L284.0,260.8 L284.5,260.7 L285.0,260.7 L285.5,260.6 L286.0,260.5 L286.5,260.3 L287.0,260.1 L287.5,259.8 L288.0,259.4 L288.5,258.8 L289.0,257.9 L289.5,256.3 L290.0,253.4 L290.5,247.2 L291.0,233.3 L291.5,213.8 L291.6,212.8 L292.0,224.7 L292.5,242.9 L293.0,251.4 L293.5,255.3 L294.0,257.3 L294.5,258.4 L295.0,259.0 L295.5,259.5 L296.0,259.7 L296.5,259.9 L297.0,260.0 L297.5,260.1 L298.0,260.1 L298.5,260.0 L299.0,259.9 L299.5,259.8 L300.0,259.6 L300.5,259.3 L301.0,258.8 L301.5,258.1 L302.0,257.1 L302.5,255.3 L303.0,252.1 L303.5,245.6 L304.0,231.1 L304.5,202.6 L304.8,191.9 L305.0,197.1 L305.5,226.6 L306.0,243.7 L306.5,251.2 L307.0,254.9 L307.5,256.9 L308.0,258.1 L308.5,258.9 L309.0,259.4 L309.5,259.8 L310.0,260.1 L310.5,260.3 L311.0,260.5 L311.5,260.6 L312.0,260.7 L312.5,260.8 L313.0,260.9 L313.5,260.9 L314.0,261.0 L314.5,261.0 L315.0,261.0 L315.5,261.1 L316.0,261.1 L316.5,261.1 L317.0,261.2 L317.5,261.2 L318.0,261.2 L318.5,261.2 L319.0,261.2 L319.5,261.2 L320.0,261.2 L320.5,261.3 L321.0,261.3 L321.5,261.3 L322.0,261.3 L322.5,261.3 L323.0,261.3 L323.5,261.3 L324.0,261.3 L324.5,261.3 L325.0,261.3 L325.5,261.3 L326.0,261.3 L326.5,261.3 L327.0,261.3 L327.5,261.3 L328.0,261.4" stroke="#ffff00"/>
<path d="M107.0,220.1 L107.5,220.7 L108.0,221.4 L108.5,222.2 L109.0,222.9 L109.5,223.1 L110.0,224.2 L110.5,225.2 L111.0,225.1 L111.5,226.4 L112.0,228.0 L112.5,229.2 L113.0,230.4 L113.5,231.2 L114.0,233.5 L114.5,234.7 L115.0,237.3 L115.5,235.5 L116.0,233.3 L116.5,229.3 L117.0,227.8 L117.5,223.4 L118.0,222.4 L118.5,222.3 L119.0,221.6 L119.5,219.4 L120.0,219.2 L120.5,218.4 L121.0,217.3 L121.5,213.8 L122.0,208.1 L122.5,200.2 L123.0,199.4 L123.5,198.8 L124.0,193.1 L124.5,181.1 L125.0,177.5 L125.5,184.1 L126.0,193.3 L126.5,196.2 L127.0,195.1 L127.5,194.7 L128.0,197.4 L128.5,196.1 L129.0,193.8 L129.5,189.3 L130.0,189.7 L130.5,186.6 L131.0,181.3 L131.5,171.0 L132.0,153.5 L132.4,147.6 L132.5,147.9 L133.0,166.0 L133.5,180.2 L134.0,190.7 L134.5,198.6 L135.0,204.8 L135.5,211.7 L136.0,212.2 L136.5,208.5 L137.0,213.1 L137.5,213.4 L138.0,216.5 L138.5,220.7 L139.0,220.6 L139.5,222.9 L140.0,228.1 L140.5,231.6 L141.0,230.8 L141.5,232.4 L142.0,233.9 L142.5,235.2 L143.0,239.2 L143.5,240.5 L144.0,241.8 L144.5,242.8 L145.0,243.9 L145.5,244.9 L146.0,246.0 L146.5,246.7 L147.0,247.5 L147.5,248.3 L148.0,249.1 L148.5,249.9 L149.0,250.6 L149.5,251.4 L150.0,252.0 L150.5,252.6 L151.0,253.2 L151.5,253.8 L152.0,254.3 L152.5,254.7 L153.0,255.0 L153.5,255.4 L154.0,255.7 L154.5,256.0 L155.0,256.3 L155.5,256.6 L156.0,256.9 L156.5,257.2 L157.0,257.5 L157.5,257.7 L158.0,258.0 L158.5,258.3 L159.0,258.5 L159.5,258.7 L160.0,259.0 L160.5,259.1 L161.0,259.3 L161.5,259.4 L162.0,259.6 L162.5,259.7 L163.0,259.9 L163.5,260.0 L164.0,260.1 L164.5,260.3 L165.0,260.4 L165.5,260.5 L166.0,260.5 L166.5,260.6 L167.0,260.6 L167.5,260.6 L168.0,260.7 L168.5,260.7 L169.0,260.8 L169.5,260.8 L170.0,260.9 L170.5,260.9 L171.0,260.9 L171.5,260.9 L172.0,261.0 L172.5,261.0 L173.0,261.0 L173.5,261.0 L174.0,261.1 L174.5,261.1 L175.0,261.1 L175.5,261.1 L176.0,261.1 L176.5,261.1 L177.0,261.1 L177.5,261.1 L178.0,261.1 L178.5,261.1 L179.0,261.1 L179.5,261.1 L180.0,261.1 L180.5,261.1 L181.0,261.1 L181.5,261.1 L182.0,261.1 L182.5,261.1 L183.0,261.1 L183.5,261.1 L184.0,261.1 L184.5,261.0 L185.0,261.0 L185.5,261.0 L186.0,261.0 L186.5,261.0 L187.0,261.0 L187.5,261.0 L188.0,261.0 L188.5,260.9 L189.0,260.9 L189.5,260.9 L190.0,260.9 L190.5,260.9 L191.0,260.8 L191.5,260.8 L192.0,260.8 L192.5,260.8 L193.0,260.7 L193.5,260.7 L194.0,260.7 L194.5,260.7 L195.0,260.6 L195.5,260.6 L196.0,260.6 L196.5,260.5 L197.0,260.5 L197.5,260.4 L198.0,260.4 L198.5,260.3 L199.0,260.3 L199.5,260.2 L200.0,260.2 L200.5,260.1 L201.0,260.0 L201.5,260.0 L202.0,259.9 L202.5,259.8 L203.0,259.7 L203.5,259.6 L204.0,259.4 L204.5,259.3 L205.0,259.2 L205.5,259.0 L206.0,258.8 L206.5,258.6 L207.0,258.4 L207.5,258.1 L208.0,257.8 L208.5,257.5 L209.0,257.1 L209.5,256.6 L210.0,256.1 L210.5,255.4 L211.0,254.7 L211.5,253.8 L212.0,252.7 L212.5,251.4 L213.0,249.8 L213.5,247.8 L214.0,245.4 L214.5,242.4 L215.0,238.8 L215.5,234.5 L216.0,229.1 L216.5,221.8 L217.0,209.2 L217.5,193.4 L217.6,192.9 L218.0,204.0 L218.5,221.4 L219.0,231.2 L219.5,237.0 L220.0,240.9 L220.5,243.7 L221.0,245.7 L221.5,247.2 L222.0,248.2 L222.5,248.9 L223.0,249.3 L223.5,249.3 L224.0,249.2 L224.5,248.8 L225.0,248.1 L225.5,247.1 L226.0,245.9 L226.5,244.3 L227.0,242.4 L227.5,240.2 L228.0,237.8 L228.5,235.3 L229.0,232.8 L229.5,230.7 L230.0,229.1 L230.5,227.9 L231.0,226.3 L231.5,222.5 L232.0,213.2 L232.5,202.1 L232.6,201.9 L233.0,211.4 L233.5,227.1 L234.0,236.2 L234.5,241.0 L235.0,243.6 L235.5,245.0 L236.0,245.6 L236.5,245.6 L237.0,245.5 L237.5,245.7 L238.0,246.7 L238.5,248.3 L239.0,250.2 L239.5,251.9 L240.0,253.3 L240.5,254.5 L241.0,255.4 L241.5,256.1 L242.0,256.7 L242.5,257.2 L243.0,257.6 L243.5,258.0 L244.0,258.3 L244.5,258.5 L245.0,258.8 L245.5,259.0 L246.0,259.1 L246.5,259.3 L247.0,259.4 L247.5,259.6 L248.0,259.7 L248.5,259.8 L249.0,259.9 L249.5,259.9 L250.0,260.0 L250.5,260.1 L251.0,260.2 L251.5,260.2 L252.0,260.3 L252.5,260.3 L253.0,260.4 L253.5,260.4 L254.0,260.5 L254.5,260.5 L255.0,260.5 L255.5,260.6 L256.0,260.6 L256.5,260.6 L257.0,260.7 L257.5,260.7 L258.0,260.7 L258.5,260.7 L259.0,260.8 L259.5,260.8 L260.0,260.8 L260.5,260.8 L261.0,260.8 L261.5,260.9 L262.0,260.9 L262.5,260.9 L263.0,260.9 L263.5,260.9 L264.0,260.9 L264.5,261.0 L265.0,261.0 L265.5,261.0 L266.0,261.0 L266.5,261.0 L267.0,261.0 L267.5,261.0 L268.0,261.0 L268.5,261.0 L269.0,261.0 L269.5,261.0 L270.0,261.0 L270.5,261.1 L271.0,261.1 L271.5,261.1 L272.0,261.1 L272.5,261.1 L273.0,261.1 L273.5,261.1 L274.0,261.1 L274.5,261.1 L275.0,261.1 L275.5,261.1 L276.0,261.1 L276.5,261.1 L277.0,261.1 L277.5,261.1 L278.0,261.1 L278.5,261.1 L279.0,261.0 L279.5,261.0 L280.0,261.0 L280.5,261.0 L281.0,261.0 L281.5,261.0 L282.0,260.9 L282.5,260.9 L283.0,260.9 L283.5,260.8 L284.0,260.8 L284.5,260.7 L285.0,260.6 L285.5,260.5 L286.0,260.4 L286.5,260.3 L287.0,260.0 L287.5,259.7 L288.0,259.3 L288.5,258.6 L289.0,257.5 L289.5,255.5 L290.0,251.7 L290.5,243.3 L291.0,225.5 L291.4,213.8 L291.5,214.7 L292.0,233.8 L292.5,247.5 L293.0,253.5 L293.5,256.3 L294.0,257.8 L294.5,258.7 L295.0,259.3 L295.5,259.6 L296.0,259.8 L296.5,260.0 L297.0,260.0 L297.5,260.1 L298.0,260.0 L298.5,260.0 L299.0,259.9 L299.5,259.7 L300.0,259.4 L300.5,259.1 L301.0,258.5 L301.5,257.7 L302.0,256.3 L302.5,254.1 L303.0,249.7 L303.5,240.6 L304.0,220.1 L304.5,191.3 L304.6,189.9 L305.0,207.4 L305.5,234.4 L306.0,247.0 L306.5,252.8 L307.0,255.7 L307.5,257.4 L308.0,258.4 L308.5,259.1 L309.0,259.6 L309.5,259.9 L310.0,260.2 L310.5,260.3 L311.0,260.5 L311.5,260.6 L312.0,260.7 L312.5,260.8 L313.0,260.9 L313.5,260.9 L314.0,261.0 L314.5,261.0 L315.0,261.0 L315.5,261.1 L316.0,261.1 L316.5,261.1 L317.0,261.2 L317.5,261.2 L318.0,261.2 L318.5,261.2 L319.0,261.2 L319.5,261.2 L320.0,261.2 L320.5,261.3 L321.0,261.3 L321.5,261.3 L322.0,261.3 L322.5,261.3 L323.0,261.3 L323.5,261.3 L324.0,261.3 L324.5,261.3 L325.0,261.3 L325.5,261.3 L326.0,261.3 L326.5,261.3 L327.0,261.3 L327.5,261.3 L328.0,261.4" stroke="#808000"/>
<path d="M107.0,219.2 L107.5,219.8 L108.0,220.7 L108.5,221.4 L109.0,222.2 L109.5,222.6 L110.0,223.7 L110.5,224.4 L111.0,224.4 L111.5,225.8 L112.0,227.5 L112.5,228.3 L113.0,228.6 L113.5,229.2 L114.0,232.6 L114.5,233.1 L115.0,235.7 L115.5,233.8 L116.0,230.1 L116.5,226.6 L117.0,225.6 L117.5,222.9 L118.0,222.7 L118.5,221.5 L119.0,221.0 L119.5,219.9 L120.0,219.5 L120.5,217.9 L121.0,216.5 L121.5,210.4 L122.0,204.9 L122.5,200.5 L123.0,199.5 L123.5,196.1 L124.0,189.5 L124.5,180.3 L124.9,174.0 L125.0,174.7 L125.5,184.0 L126.0,191.3 L126.5,193.6 L127.0,194.5 L127.5,192.7 L128.0,195.7 L128.5,194.8 L129.0,190.3 L129.5,186.4 L130.0,187.4 L130.5,181.9 L131.0,172.7 L131.5,159.8 L132.0,147.7 L132.5,162.4 L133.0,176.5 L133.5,185.6 L134.0,193.6 L134.5,200.5 L135.0,208.5 L135.5,212.1 L136.0,212.2 L136.5,210.4 L137.0,213.8 L137.5,215.5 L138.0,220.1 L138.5,222.4 L139.0,224.2 L139.5,226.0 L140.0,230.5 L140.5,233.6 L141.0,232.6 L141.5,234.2 L142.0,235.7 L142.5,237.0 L143.0,240.0 L143.5,241.3 L144.0,242.6 L144.5,243.7 L145.0,244.8 L145.5,245.8 L146.0,246.9 L146.5,247.7 L147.0,248.5 L147.5,249.3 L148.0,250.0 L148.5,250.8 L149.0,251.6 L149.5,252.3 L150.0,252.9 L150.5,253.4 L151.0,254.0 L151.5,254.5 L152.0,255.0 L152.5,255.3 L153.0,255.6 L153.5,255.9 L154.0,256.2 L154.5,256.4 L155.0,256.7 L155.5,257.0 L156.0,257.2 L156.5,257.5 L157.0,257.7 L157.5,258.0 L158.0,258.2 L158.5,258.5 L159.0,258.7 L159.5,258.9 L160.0,259.1 L160.5,259.3 L161.0,259.4 L161.5,259.6 L162.0,259.7 L162.5,259.8 L163.0,260.0 L163.5,260.1 L164.0,260.3 L164.5,260.4 L165.0,260.5 L165.5,260.6 L166.0,260.6 L166.5,260.6 L167.0,260.7 L167.5,260.7 L168.0,260.8 L168.5,260.8 L169.0,260.8 L169.5,260.9 L170.0,260.9 L170.5,260.9 L171.0,260.9 L171.5,261.0 L172.0,261.0 L172.5,261.0 L173.0,261.0 L173.5,261.1 L174.0,261.1 L174.5,261.1 L175.0,261.1 L175.5,261.1 L176.0,261.1 L176.5,261.1 L177.0,261.1 L177.5,261.1 L178.0,261.1 L178.5,261.1 L179.0,261.1 L179.5,261.1 L180.0,261.1 L180.5,261.1 L181.0,261.1 L181.5,261.1 L182.0,261.1 L182.5,261.1 L183.0,261.1 L183.5,261.0 L184.0,261.0 L184.5,261.0 L185.0,261.0 L185.5,261.0 L186.0,261.0 L186.5,261.0 L187.0,261.0 L187.5,260.9 L188.0,260.9 L188.5,260.9 L189.0,260.9 L189.5,260.9 L190.0,260.9 L190.5,260.8 L191.0,260.8 L191.5,260.8 L192.0,260.8 L192.5,260.7 L193.0,260.7 L193.5,260.7 L194.0,260.7 L194.5,260.6 L195.0,260.6 L195.5,260.6 L196.0,260.5 L196.5,260.5 L197.0,260.4 L197.5,260.4 L198.0,260.3 L198.5,260.3 L199.0,260.2 L199.5,260.2 L200.0,260.1 L200.5,260.0 L201.0,260.0 L201.5,259.9 L202.0,259.8 L202.5,259.7 L203.0,259.6 L203.5,259.5 L204.0,259.3 L204.5,259.2 L205.0,259.0 L205.5,258.9 L206.0,258.7 L206.5,258.4 L207.0,258.2 L207.5,257.9 L208.0,257.6 L208.5,257.2 L209.0,256.8 L209.5,256.3 L210.0,255.7 L210.5,255.0 L211.0,254.2 L211.5,253.2 L212.0,252.0 L212.5,250.6 L213.0,248.9 L213.5,246.7 L214.0,244.1 L214.5,240.9 L215.0,237.0 L215.5,232.3 L216.0,226.4 L216.5,218.0 L217.0,203.2 L217.5,189.9 L218.0,205.7 L218.5,222.2 L219.0,231.2 L219.5,236.8 L220.0,240.6 L220.5,243.3 L221.0,245.3 L221.5,246.7 L222.0,247.6 L222.5,248.2 L223.0,248.5 L223.5,248.5 L224.0,248.2 L224.5,247.6 L225.0,246.8 L225.5,245.6 L226.0,244.1 L226.5,242.3 L227.0,240.2 L227.5,237.7 L228.0,235.2 L228.5,232.7 L229.0,230.5 L229.5,228.8 L230.0,227.5 L230.5,226.0 L231.0,222.8 L231.5,214.8 L232.0,202.3 L232.2,200.9 L232.5,207.1 L233.0,223.9 L233.5,234.4 L234.0,239.9 L234.5,242.9 L235.0,244.6 L235.5,245.3 L236.0,245.4 L236.5,245.3 L237.0,245.5 L237.5,246.3 L238.0,247.9 L238.5,249.7 L239.0,251.4 L239.5,252.9 L240.0,254.2 L240.5,255.1 L241.0,255.9 L241.5,256.5 L242.0,257.1 L242.5,257.5 L243.0,257.9 L243.5,258.2 L244.0,258.4 L244.5,258.7 L245.0,258.9 L245.5,259.1 L246.0,259.2 L246.5,259.4 L247.0,259.5 L247.5,259.6 L248.0,259.7 L248.5,259.8 L249.0,259.9 L249.5,260.0 L250.0,260.1 L250.5,260.1 L251.0,260.2 L251.5,260.2 L252.0,260.3 L252.5,260.3 L253.0,260.4 L253.5,260.4 L254.0,260.5 L254.5,260.5 L255.0,260.5 L255.5,260.6 L256.0,260.6 L256.5,260.6 L257.0,260.7 L257.5,260.7 L258.0,260.7 L258.5,260.7 L259.0,260.8 L259.5,260.8 L260.0,260.8 L260.5,260.8 L261.0,260.8 L261.5,260.9 L262.0,260.9 L262.5,260.9 L263.0,260.9 L263.5,260.9 L264.0,260.9 L264.5,260.9 L265.0,261.0 L265.5,261.0 L266.0,261.0 L266.5,261.0 L267.0,261.0 L267.5,261.0 L268.0,261.0 L268.5,261.0 L269.0,261.0 L269.5,261.0 L270.0,261.0 L270.5,261.0 L271.0,261.1 L271.5,261.1 L272.0,261.1 L272.5,261.1 L273.0,261.1 L273.5,261.1 L274.0,261.1 L274.5,261.1 L275.0,261.1 L275.5,261.1 L276.0,261.1 L276.5,261.1 L277.0,261.1 L277.5,261.1 L278.0,261.1 L278.5,261.0 L279.0,261.0 L279.5,261.0 L280.0,261.0 L280.5,261.0 L281.0,261.0 L281.5,261.0 L282.0,260.9 L282.5,260.9 L283.0,260.9 L283.5,260.8 L284.0,260.8 L284.5,260.7 L285.0,260.7 L285.5,260.6 L286.0,260.4 L286.5,260.3 L287.0,260.1 L287.5,259.8 L288.0,259.4 L288.5,258.8 L289.0,257.8 L289.5,256.2 L290.0,253.2 L290.5,246.9 L291.0,232.7 L291.5,212.8 L291.6,211.8 L292.0,223.9 L292.5,242.5 L293.0,251.2 L293.5,255.1 L294.0,257.1 L294.5,258.3 L295.0,258.9 L295.5,259.4 L296.0,259.6 L296.5,259.8 L297.0,259.9 L297.5,259.9 L298.0,259.9 L298.5,259.8 L299.0,259.7 L299.5,259.5 L300.0,259.2 L300.5,258.8 L301.0,258.1 L301.5,257.1 L302.0,255.4 L302.5,252.4 L303.0,246.5 L303.5,233.5 L304.0,205.9 L304.4,187.8 L304.5,189.3 L305.0,218.9 L305.5,240.1 L306.0,249.5 L306.5,253.9 L307.0,256.3 L307.5,257.7 L308.0,258.6 L308.5,259.2 L309.0,259.7 L309.5,260.0 L310.0,260.2 L310.5,260.4 L311.0,260.5 L311.5,260.6 L312.0,260.7 L312.5,260.8 L313.0,260.9 L313.5,260.9 L314.0,261.0 L314.5,261.0 L315.0,261.0 L315.5,261.1 L316.0,261.1 L316.5,261.1 L317.0,261.2 L317.5,261.2 L318.0,261.2 L318.5,261.2 L319.0,261.2 L319.5,261.2 L320.0,261.2 L320.5,261.3 L321.0,261.3 L321.5,261.3 L322.0,261.3 L322.5,261.3 L323.0,261.3 L323.5,261.3 L324.0,261.3 L324.5,261.3 L325.0,261.3 L325.5,261.3 L326.0,261.3 L326.5,261.3 L327.0,261.3 L327.5,261.3 L328.0,261.3" stroke="#000080"/>
<path d="M107.0,217.3 L107.5,218.2 L108.0,219.0 L108.5,219.8 L109.0,220.6 L109.5,221.7 L110.0,222.8 L110.5,222.8 L111.0,222.7 L111.5,224.5 L112.0,226.2 L112.5,226.3 L113.0,227.0 L113.5,229.5 L114.0,230.2 L114.5,232.4 L115.0,235.1 L115.5,233.0 L116.0,226.5 L116.5,226.9 L117.0,222.9 L117.5,221.9 L118.0,223.8 L118.5,220.5 L119.0,217.4 L119.5,216.6 L120.0,217.8 L120.5,216.0 L121.0,213.8 L121.5,205.0 L122.0,200.3 L122.5,198.0 L123.0,197.5 L123.5,189.6 L124.0,178.4 L124.5,164.9 L124.9,155.6 L125.0,157.4 L125.5,171.9 L126.0,184.3 L126.5,188.1 L127.0,186.3 L127.5,189.6 L128.0,192.5 L128.5,189.1 L129.0,184.1 L129.5,184.6 L130.0,185.1 L130.5,181.3 L131.0,175.2 L131.5,168.9 L132.0,155.1 L132.5,137.6 L133.0,117.0 L133.5,143.4 L134.0,173.9 L134.5,188.7 L135.0,200.7 L135.5,203.7 L136.0,207.8 L136.5,210.9 L137.0,213.8 L137.5,215.7 L138.0,220.4 L138.5,223.9 L139.0,226.5 L139.5,231.2 L140.0,234.8 L140.5,236.9 L141.0,235.7 L141.5,237.3 L142.0,238.9 L142.5,240.2 L143.0,241.4 L143.5,242.7 L144.0,244.0 L144.5,245.2 L145.0,246.3 L145.5,247.5 L146.0,248.6 L146.5,249.4 L147.0,250.2 L147.5,251.0 L148.0,251.8 L148.5,252.6 L149.0,253.4 L149.5,254.1 L150.0,254.5 L150.5,254.9 L151.0,255.4 L151.5,255.8 L152.0,256.2 L152.5,256.4 L153.0,256.6 L153.5,256.8 L154.0,257.0 L154.5,257.2 L155.0,257.4 L155.5,257.6 L156.0,257.8 L156.5,258.0 L157.0,258.2 L157.5,258.4 L158.0,258.6 L158.5,258.8 L159.0,259.0 L159.5,259.2 L160.0,259.4 L160.5,259.6 L161.0,259.7 L161.5,259.8 L162.0,260.0 L162.5,260.1 L163.0,260.2 L163.5,260.3 L164.0,260.5 L164.5,260.6 L165.0,260.7 L165.5,260.8 L166.0,260.8 L166.5,260.8 L167.0,260.8 L167.5,260.8 L168.0,260.9 L168.5,260.9 L169.0,260.9 L169.5,260.9 L170.0,260.9 L170.5,261.0 L171.0,261.0 L171.5,261.0 L172.0,261.0 L172.5,261.1 L173.0,261.1 L173.5,261.1 L174.0,261.1 L174.5,261.1 L175.0,261.1 L175.5,261.1 L176.0,261.1 L176.5,261.1 L177.0,261.1 L177.5,261.1 L178.0,261.1 L178.5,261.1 L179.0,261.1 L179.5,261.1 L180.0,261.1 L180.5,261.1 L181.0,261.1 L181.5,261.0 L182.0,261.0 L182.5,261.0 L183.0,261.0 L183.5,261.0 L184.0,261.0 L184.5,261.0 L185.0,261.0 L185.5,260.9 L186.0,260.9 L186.5,260.9 L187.0,260.9 L187.5,260.9 L188.0,260.9 L188.5,260.9 L189.0,260.8 L189.5,260.8 L190.0,260.8 L190.5,260.8 L191.0,260.7 L191.5,260.7 L192.0,260.7 L192.5,260.7 L193.0,260.6 L193.5,260.6 L194.0,260.6 L194.5,260.5 L195.0,260.5 L195.5,260.5 L196.0,260.4 L196.5,260.4 L197.0,260.3 L197.5,260.3 L198.0,260.2 L198.5,260.2 L199.0,260.1 L199.5,260.0 L200.0,260.0 L200.5,259.9 L201.0,259.8 L201.5,259.7 L202.0,259.6 L202.5,259.5 L203.0,259.4 L203.5,259.3 L204.0,259.1 L204.5,259.0 L205.0,258.8 L205.5,258.6 L206.0,258.4 L206.5,258.1 L207.0,257.8 L207.5,257.5 L208.0,257.2 L208.5,256.7 L209.0,256.3 L209.5,255.7 L210.0,255.1 L210.5,254.3 L211.0,253.4 L211.5,252.3 L212.0,250.9 L212.5,249.3 L213.0,247.3 L213.5,244.9 L214.0,241.9 L214.5,238.3 L215.0,233.9 L215.5,228.6 L216.0,221.9 L216.5,211.8 L217.0,194.2 L217.4,183.9 L217.5,185.1 L218.0,205.4 L218.5,221.2 L219.0,230.0 L219.5,235.5 L220.0,239.3 L220.5,242.0 L221.0,243.9 L221.5,245.3 L222.0,246.2 L222.5,246.7 L223.0,246.9 L223.5,246.7 L224.0,246.2 L224.5,245.3 L225.0,244.2 L225.5,242.6 L226.0,240.8 L226.5,238.5 L227.0,236.0 L227.5,233.3 L228.0,230.6 L228.5,228.3 L229.0,226.5 L229.5,225.1 L230.0,223.6 L230.5,220.2 L231.0,211.7 L231.5,198.4 L231.7,196.9 L232.0,203.5 L232.5,221.5 L233.0,232.7 L233.5,238.6 L234.0,241.9 L234.5,243.7 L235.0,244.5 L235.5,244.8 L236.0,244.7 L236.5,245.0 L237.0,245.9 L237.5,247.4 L238.0,249.3 L238.5,251.1 L239.0,252.6 L239.5,253.9 L240.0,254.9 L240.5,255.7 L241.0,256.3 L241.5,256.9 L242.0,257.3 L242.5,257.7 L243.0,258.0 L243.5,258.3 L244.0,258.5 L244.5,258.7 L245.0,258.9 L245.5,259.1 L246.0,259.2 L246.5,259.4 L247.0,259.5 L247.5,259.6 L248.0,259.7 L248.5,259.8 L249.0,259.9 L249.5,260.0 L250.0,260.0 L250.5,260.1 L251.0,260.2 L251.5,260.2 L252.0,260.3 L252.5,260.3 L253.0,260.4 L253.5,260.4 L254.0,260.4 L254.5,260.5 L255.0,260.5 L255.5,260.6 L256.0,260.6 L256.5,260.6 L257.0,260.6 L257.5,260.7 L258.0,260.7 L258.5,260.7 L259.0,260.7 L259.5,260.8 L260.0,260.8 L260.5,260.8 L261.0,260.8 L261.5,260.8 L262.0,260.9 L262.5,260.9 L263.0,260.9 L263.5,260.9 L264.0,260.9 L264.5,260.9 L265.0,260.9 L265.5,261.0 L266.0,261.0 L266.5,261.0 L267.0,261.0 L267.5,261.0 L268.0,261.0 L268.5,261.0 L269.0,261.0 L269.5,261.0 L270.0,261.0 L270.5,261.0 L271.0,261.0 L271.5,261.0 L272.0,261.0 L272.5,261.0 L273.0,261.1 L273.5,261.1 L274.0,261.1 L274.5,261.1 L275.0,261.1 L275.5,261.1 L276.0,261.1 L276.5,261.1 L277.0,261.1 L277.5,261.0 L278.0,261.0 L278.5,261.0 L279.0,261.0 L279.5,261.0 L280.0,261.0 L280.5,261.0 L281.0,261.0 L281.5,261.0 L282.0,260.9 L282.5,260.9 L283.0,260.9 L283.5,260.9 L284.0,260.8 L284.5,260.8 L285.0,260.7 L285.5,260.6 L286.0,260.5 L286.5,260.4 L287.0,260.3 L287.5,260.1 L288.0,259.8 L288.5,259.4 L289.0,258.8 L289.5,258.0 L290.0,256.5 L290.5,253.8 L291.0,248.3 L291.5,235.9 L292.0,214.5 L292.2,210.7 L292.5,218.5 L293.0,239.2 L293.5,249.7 L294.0,254.4 L294.5,256.7 L295.0,257.9 L295.5,258.7 L296.0,259.1 L296.5,259.4 L297.0,259.6 L297.5,259.6 L298.0,259.6 L298.5,259.6 L299.0,259.4 L299.5,259.2 L300.0,258.8 L300.5,258.3 L301.0,257.5 L301.5,256.1 L302.0,253.9 L302.5,249.8 L303.0,241.3 L303.5,222.0 L304.0,188.7 L304.2,182.8 L304.5,195.0 L305.0,227.2 L305.5,243.6 L306.0,251.0 L306.5,254.6 L307.0,256.7 L307.5,257.9 L308.0,258.7 L308.5,259.3 L309.0,259.7 L309.5,260.0 L310.0,260.2 L310.5,260.4 L311.0,260.5 L311.5,260.6 L312.0,260.7 L312.5,260.8 L313.0,260.9 L313.5,260.9 L314.0,261.0 L314.5,261.0 L315.0,261.0 L315.5,261.1 L316.0,261.1 L316.5,261.1 L317.0,261.1 L317.5,261.2 L318.0,261.2 L318.5,261.2 L319.0,261.2 L319.5,261.2 L320.0,261.2 L320.5,261.2 L321.0,261.3 L321.5,261.3 L322.0,261.3 L322.5,261.3 L323.0,261.3 L323.5,261.3 L324.0,261.3 L324.5,261.3 L325.0,261.3 L325.5,261.3 L326.0,261.3 L326.5,261.3 L327.0,261.3 L327.5,261.3 L328.0,261.3" stroke="#800080"/>
</g>
<text class="ml" x="102" y="168">TM</text><text class="sb" x="114.5" y="171">2</text>
<text class="ml" x="147" y="168.3">TE</text><text class="sb" x="158.5" y="171.3">2</text>
<text class="ml" x="197" y="194">TM</text><text class="sb" x="209.5" y="198">1</text>
<text class="ml" x="243" y="196.3">TE</text><text class="sb" x="255" y="200.3">1</text>
<text class="ml" x="272" y="214.3">TM</text><text class="sb" x="284.5" y="217.3">0</text>
<text class="ml" x="314" y="218.2">TE</text><text class="sb" x="325.5" y="222.2">0</text>
<text class="ax" transform="translate(53,192) rotate(-90)" text-anchor="middle" style="letter-spacing:0.28px">intensity [a.u.]</text>
<text class="ax" x="194.5" y="310" style="font-weight:bold;font-size:8px;letter-spacing:0.5px">angle [°]</text>
<g shape-rendering="crispEdges">
<line x1="368.5" y1="304.5" x2="665.5" y2="304.5" stroke="#000" stroke-width="1.3"/>
<line x1="368.5" y1="487.5" x2="665.5" y2="487.5" stroke="#000" stroke-width="1.3"/>
<line x1="368.5" y1="304.5" x2="368.5" y2="487.5" stroke="#000" stroke-width="1.3"/>
<line x1="665.5" y1="304.5" x2="665.5" y2="487.5" stroke="#f00" stroke-width="1.3"/>
<line x1="366.5" y1="304.5" x2="368.5" y2="304.5" stroke="#000"/>
<line x1="364.5" y1="487.5" x2="368.5" y2="487.5" stroke="#000"/>
<text x="362.0" y="489.3" class="tk" text-anchor="end">1,580</text>
<line x1="366.5" y1="470.5" x2="368.5" y2="470.5" stroke="#000"/>
<line x1="364.5" y1="454.5" x2="368.5" y2="454.5" stroke="#000"/>
<text x="362.0" y="456.3" class="tk" text-anchor="end">1,585</text>
<line x1="366.5" y1="437.5" x2="368.5" y2="437.5" stroke="#000"/>
<line x1="364.5" y1="421.5" x2="368.5" y2="421.5" stroke="#000"/>
<text x="362.0" y="423.3" class="tk" text-anchor="end">1,590</text>
<line x1="366.5" y1="404.5" x2="368.5" y2="404.5" stroke="#000"/>
<line x1="364.5" y1="387.5" x2="368.5" y2="387.5" stroke="#000"/>
<text x="362.0" y="389.3" class="tk" text-anchor="end">1,595</text>
<line x1="366.5" y1="371.5" x2="368.5" y2="371.5" stroke="#000"/>
<line x1="364.5" y1="354.5" x2="368.5" y2="354.5" stroke="#000"/>
<text x="362.0" y="356.3" class="tk" text-anchor="end">1,600</text>
<line x1="366.5" y1="338.5" x2="368.5" y2="338.5" stroke="#000"/>
<line x1="364.5" y1="321.5" x2="368.5" y2="321.5" stroke="#000"/>
<text x="362.0" y="323.3" class="tk" text-anchor="end">1,605</text>
<line x1="661.5" y1="487.5" x2="665.5" y2="487.5" stroke="#f00"/>
<text x="670.0" y="489.2" class="tk" style="letter-spacing:0.5px">100</text>
<line x1="663.5" y1="472.5" x2="665.5" y2="472.5" stroke="#f00"/>
<line x1="661.5" y1="457.5" x2="665.5" y2="457.5" stroke="#f00"/>
<text x="670.0" y="459.2" class="tk" style="letter-spacing:0.5px">110</text>
<line x1="663.5" y1="441.5" x2="665.5" y2="441.5" stroke="#f00"/>
<line x1="661.5" y1="426.5" x2="665.5" y2="426.5" stroke="#f00"/>
<text x="670.0" y="428.2" class="tk" style="letter-spacing:0.5px">120</text>
<line x1="663.5" y1="411.5" x2="665.5" y2="411.5" stroke="#f00"/>
<line x1="661.5" y1="396.5" x2="665.5" y2="396.5" stroke="#f00"/>
<text x="670.0" y="398.2" class="tk" style="letter-spacing:0.5px">130</text>
<line x1="663.5" y1="381.5" x2="665.5" y2="381.5" stroke="#f00"/>
<line x1="661.5" y1="365.5" x2="665.5" y2="365.5" stroke="#f00"/>
<text x="670.0" y="367.2" class="tk" style="letter-spacing:0.5px">140</text>
<line x1="663.5" y1="350.5" x2="665.5" y2="350.5" stroke="#f00"/>
<line x1="661.5" y1="335.5" x2="665.5" y2="335.5" stroke="#f00"/>
<text x="670.0" y="337.2" class="tk" style="letter-spacing:0.5px">150</text>
<line x1="663.5" y1="320.5" x2="665.5" y2="320.5" stroke="#f00"/>
<line x1="661.5" y1="305.5" x2="665.5" y2="305.5" stroke="#f00"/>
<text x="670.0" y="307.2" class="tk" style="letter-spacing:0.5px">160</text>
<line x1="369.5" y1="487.5" x2="369.5" y2="489.5" stroke="#000"/>
<line x1="381.5" y1="487.5" x2="381.5" y2="491.5" stroke="#000"/>
<text x="381.3" y="499" class="tk" text-anchor="middle">0</text>
<line x1="394.5" y1="487.5" x2="394.5" y2="489.5" stroke="#000"/>
<line x1="406.5" y1="487.5" x2="406.5" y2="491.5" stroke="#000"/>
<text x="406.1" y="499" class="tk" text-anchor="middle">2</text>
<line x1="418.5" y1="487.5" x2="418.5" y2="489.5" stroke="#000"/>
<line x1="431.5" y1="487.5" x2="431.5" y2="491.5" stroke="#000"/>
<text x="430.8" y="499" class="tk" text-anchor="middle">4</text>
<line x1="443.5" y1="487.5" x2="443.5" y2="489.5" stroke="#000"/>
<line x1="456.5" y1="487.5" x2="456.5" y2="491.5" stroke="#000"/>
<text x="455.6" y="499" class="tk" text-anchor="middle">6</text>
<line x1="468.5" y1="487.5" x2="468.5" y2="489.5" stroke="#000"/>
<line x1="480.5" y1="487.5" x2="480.5" y2="491.5" stroke="#000"/>
<text x="480.4" y="499" class="tk" text-anchor="middle">8</text>
<line x1="493.5" y1="487.5" x2="493.5" y2="489.5" stroke="#000"/>
<line x1="505.5" y1="487.5" x2="505.5" y2="491.5" stroke="#000"/>
<text x="505.2" y="499" class="tk" text-anchor="middle">10</text>
<line x1="518.5" y1="487.5" x2="518.5" y2="489.5" stroke="#000"/>
<line x1="530.5" y1="487.5" x2="530.5" y2="491.5" stroke="#000"/>
<text x="529.9" y="499" class="tk" text-anchor="middle">12</text>
<line x1="542.5" y1="487.5" x2="542.5" y2="489.5" stroke="#000"/>
<line x1="555.5" y1="487.5" x2="555.5" y2="491.5" stroke="#000"/>
<text x="554.7" y="499" class="tk" text-anchor="middle">14</text>
<line x1="567.5" y1="487.5" x2="567.5" y2="489.5" stroke="#000"/>
<line x1="579.5" y1="487.5" x2="579.5" y2="491.5" stroke="#000"/>
<text x="579.5" y="499" class="tk" text-anchor="middle">16</text>
<line x1="592.5" y1="487.5" x2="592.5" y2="489.5" stroke="#000"/>
<line x1="604.5" y1="487.5" x2="604.5" y2="491.5" stroke="#000"/>
<text x="604.2" y="499" class="tk" text-anchor="middle">18</text>
<line x1="617.5" y1="487.5" x2="617.5" y2="489.5" stroke="#000"/>
<line x1="629.5" y1="487.5" x2="629.5" y2="491.5" stroke="#000"/>
<text x="629.0" y="499" class="tk" text-anchor="middle">20</text>
<line x1="641.5" y1="487.5" x2="641.5" y2="489.5" stroke="#000"/>
<line x1="654.5" y1="487.5" x2="654.5" y2="491.5" stroke="#000"/>
<text x="653.8" y="499" class="tk" text-anchor="middle">22</text>
<line x1="666.5" y1="487.5" x2="666.5" y2="489.5" stroke="#000"/>
<line x1="381.5" y1="304.5" x2="381.5" y2="307.5" stroke="#000"/>
<line x1="412.5" y1="304.5" x2="412.5" y2="306.5" stroke="#000"/>
<line x1="443.5" y1="304.5" x2="443.5" y2="307.5" stroke="#000"/>
<line x1="474.5" y1="304.5" x2="474.5" y2="306.5" stroke="#000"/>
<line x1="505.5" y1="304.5" x2="505.5" y2="307.5" stroke="#000"/>
<line x1="536.5" y1="304.5" x2="536.5" y2="306.5" stroke="#000"/>
<line x1="567.5" y1="304.5" x2="567.5" y2="307.5" stroke="#000"/>
<line x1="598.5" y1="304.5" x2="598.5" y2="306.5" stroke="#000"/>
<line x1="629.5" y1="304.5" x2="629.5" y2="307.5" stroke="#000"/>
<line x1="660.5" y1="304.5" x2="660.5" y2="306.5" stroke="#000"/>
<polyline fill="none" stroke="#000" points="381.5,323.5 392,380.5 412.5,443 429,458 449.5,466.5 643.5,466.5"/>
<polyline fill="none" stroke="#f00" points="381,455 391,420.5 412,370.5 428.5,356.5 449.3,347.5 643.5,349.5"/>
<rect x="379" y="321" width="5" height="5" fill="#000"/>
<rect x="390" y="378" width="4" height="5" fill="#000"/>
<rect x="410" y="441" width="5" height="4" fill="#000"/>
<rect x="427" y="456" width="4" height="4" fill="#000"/>
<rect x="447" y="465" width="5" height="4" fill="#000"/>
<rect x="641" y="465" width="5" height="4" fill="#000"/>
<path d="M377.7,457.0 L381.0,452.0 L384.3,457.0Z" fill="#f00"/>
<path d="M387.7,422.7 L391.0,418.0 L394.3,422.7Z" fill="#f00"/>
<path d="M408.7,373.0 L412.0,368.0 L415.3,373.0Z" fill="#f00"/>
<path d="M425.2,359.0 L428.5,353.7 L431.8,359.0Z" fill="#f00"/>
<path d="M446.0,349.7 L449.3,344.0 L452.6,349.7Z" fill="#f00"/>
<path d="M640.2,350.8 L643.5,346.0 L646.8,350.8Z" fill="#f00"/>
<line x1="552" y1="384.5" x2="576" y2="384.5" stroke="#000"/>
<rect x="562" y="382" width="6" height="5" fill="#000"/>
<text x="580" y="386.5" class="lg">refractive index</text>
<line x1="553" y1="407.5" x2="577" y2="407.5" stroke="#f00"/>
<path d="M561.7,410.2 L565.2,403.6 L568.9,410.2Z" fill="#f00"/>
<text x="580" y="410" class="lg">film thickness</text>
</g>
<text class="ax" transform="translate(338.3,392.7) rotate(-90)" text-anchor="middle">refractive Index</text>
<text class="ax" transform="translate(697,401) rotate(-90)" text-anchor="middle" style="letter-spacing:0.25px">film thickness [nm]</text>
<text class="ax" x="499" y="515" style="letter-spacing:0.8px">time [h]</text>
</svg>
</body></html>
